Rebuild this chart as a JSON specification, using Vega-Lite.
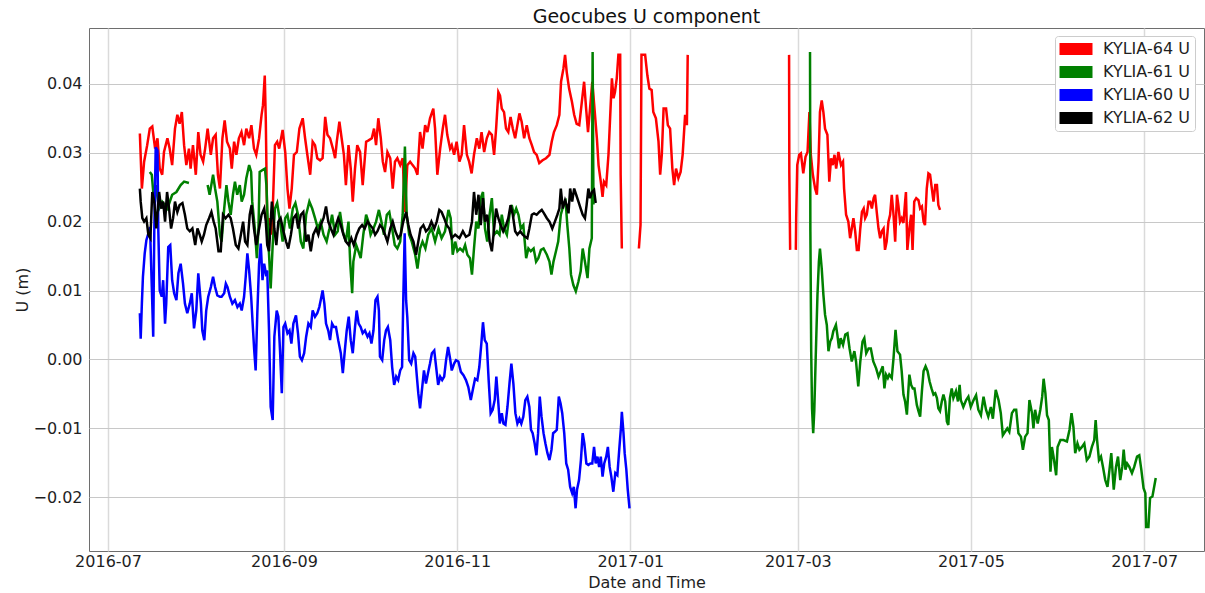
{
"$schema": "https://vega.github.io/schema/vega-lite/v6.json",
"autosize": {"type": "none"},
"padding": {"left": 89, "top": 28, "right": 1, "bottom": 42},
"width": 1115,
"height": 523,
"title": {"text": "Geocubes U component", "fontSize": 19, "fontWeight": "normal", "font": "DejaVu Sans", "color": "#111111", "offset": 1, "anchor": "middle"},
"config": {
  "font": "DejaVu Sans",
  "view": {"stroke": "#6e6e6e", "strokeWidth": 1},
  "axis": {"labelFont": "DejaVu Sans", "titleFont": "DejaVu Sans", "labelFontSize": 16, "titleFontSize": 16, "titleFontWeight": "normal", "labelColor": "#1f1f1f", "titleColor": "#1f1f1f", "domain": false, "ticks": false, "grid": true}
},
"datasets": {
"red": [
{"s":"KYLIA-64 U","g":1,"t":"2016-07-12T05:00","u":0.0328},
{"s":"KYLIA-64 U","g":1,"t":"2016-07-12T22:00","u":0.0248},
{"s":"KYLIA-64 U","g":1,"t":"2016-07-13T17:00","u":0.0287},
{"s":"KYLIA-64 U","g":1,"t":"2016-07-14T19:00","u":0.0311},
{"s":"KYLIA-64 U","g":1,"t":"2016-07-15T17:00","u":0.0335},
{"s":"KYLIA-64 U","g":1,"t":"2016-07-16T14:00","u":0.0338},
{"s":"KYLIA-64 U","g":1,"t":"2016-07-17T14:00","u":0.0306},
{"s":"KYLIA-64 U","g":1,"t":"2016-07-18T10:00","u":0.0321},
{"s":"KYLIA-64 U","g":1,"t":"2016-07-19T05:00","u":0.0277},
{"s":"KYLIA-64 U","g":1,"t":"2016-07-20T02:00","u":0.0268},
{"s":"KYLIA-64 U","g":1,"t":"2016-07-20T17:00","u":0.0301},
{"s":"KYLIA-64 U","g":1,"t":"2016-07-21T22:00","u":0.0321},
{"s":"KYLIA-64 U","g":1,"t":"2016-07-22T17:00","u":0.0306},
{"s":"KYLIA-64 U","g":1,"t":"2016-07-23T14:00","u":0.0282},
{"s":"KYLIA-64 U","g":1,"t":"2016-07-24T14:00","u":0.0335},
{"s":"KYLIA-64 U","g":1,"t":"2016-07-25T10:00","u":0.0355},
{"s":"KYLIA-64 U","g":1,"t":"2016-07-26T05:00","u":0.0342},
{"s":"KYLIA-64 U","g":1,"t":"2016-07-27T00:00","u":0.0359},
{"s":"KYLIA-64 U","g":1,"t":"2016-07-27T19:00","u":0.0311},
{"s":"KYLIA-64 U","g":1,"t":"2016-07-28T14:00","u":0.0282},
{"s":"KYLIA-64 U","g":1,"t":"2016-07-29T12:00","u":0.0306},
{"s":"KYLIA-64 U","g":1,"t":"2016-07-30T02:00","u":0.0277},
{"s":"KYLIA-64 U","g":1,"t":"2016-07-30T22:00","u":0.0311},
{"s":"KYLIA-64 U","g":1,"t":"2016-07-31T22:00","u":0.0268},
{"s":"KYLIA-64 U","g":1,"t":"2016-08-01T19:00","u":0.0330},
{"s":"KYLIA-64 U","g":1,"t":"2016-08-02T14:00","u":0.0297},
{"s":"KYLIA-64 U","g":1,"t":"2016-08-03T12:00","u":0.0287},
{"s":"KYLIA-64 U","g":1,"t":"2016-08-04T05:00","u":0.0306},
{"s":"KYLIA-64 U","g":1,"t":"2016-08-05T02:00","u":0.0335},
{"s":"KYLIA-64 U","g":1,"t":"2016-08-06T05:00","u":0.0297},
{"s":"KYLIA-64 U","g":1,"t":"2016-08-07T00:00","u":0.0321},
{"s":"KYLIA-64 U","g":1,"t":"2016-08-07T22:00","u":0.0326},
{"s":"KYLIA-64 U","g":1,"t":"2016-08-08T17:00","u":0.0268},
{"s":"KYLIA-64 U","g":1,"t":"2016-08-09T10:00","u":0.0248},
{"s":"KYLIA-64 U","g":1,"t":"2016-08-10T07:00","u":0.0321},
{"s":"KYLIA-64 U","g":1,"t":"2016-08-11T02:00","u":0.0347},
{"s":"KYLIA-64 U","g":1,"t":"2016-08-11T22:00","u":0.0316},
{"s":"KYLIA-64 U","g":1,"t":"2016-08-12T22:00","u":0.0306},
{"s":"KYLIA-64 U","g":1,"t":"2016-08-13T14:00","u":0.0277},
{"s":"KYLIA-64 U","g":1,"t":"2016-08-14T10:00","u":0.0316},
{"s":"KYLIA-64 U","g":1,"t":"2016-08-15T05:00","u":0.0297},
{"s":"KYLIA-64 U","g":1,"t":"2016-08-16T02:00","u":0.0321},
{"s":"KYLIA-64 U","g":1,"t":"2016-08-17T00:00","u":0.0330},
{"s":"KYLIA-64 U","g":1,"t":"2016-08-17T22:00","u":0.0311},
{"s":"KYLIA-64 U","g":1,"t":"2016-08-18T17:00","u":0.0335},
{"s":"KYLIA-64 U","g":1,"t":"2016-08-19T17:00","u":0.0321},
{"s":"KYLIA-64 U","g":1,"t":"2016-08-20T12:00","u":0.0340},
{"s":"KYLIA-64 U","g":1,"t":"2016-08-21T10:00","u":0.0306},
{"s":"KYLIA-64 U","g":1,"t":"2016-08-22T05:00","u":0.0297},
{"s":"KYLIA-64 U","g":1,"t":"2016-08-23T05:00","u":0.0321},
{"s":"KYLIA-64 U","g":1,"t":"2016-08-24T02:00","u":0.0355},
{"s":"KYLIA-64 U","g":1,"t":"2016-08-24T14:00","u":0.0369},
{"s":"KYLIA-64 U","g":1,"t":"2016-08-25T05:00","u":0.0412},
{"s":"KYLIA-64 U","g":1,"t":"2016-08-25T14:00","u":0.0345},
{"s":"KYLIA-64 U","g":1,"t":"2016-08-26T02:00","u":0.0190},
{"s":"KYLIA-64 U","g":1,"t":"2016-08-27T00:00","u":0.0205},
{"s":"KYLIA-64 U","g":1,"t":"2016-08-27T17:00","u":0.0181},
{"s":"KYLIA-64 U","g":1,"t":"2016-08-28T19:00","u":0.0311},
{"s":"KYLIA-64 U","g":1,"t":"2016-08-29T14:00","u":0.0316},
{"s":"KYLIA-64 U","g":1,"t":"2016-08-30T07:00","u":0.0306},
{"s":"KYLIA-64 U","g":1,"t":"2016-08-31T12:00","u":0.0333},
{"s":"KYLIA-64 U","g":1,"t":"2016-09-01T10:00","u":0.0301},
{"s":"KYLIA-64 U","g":1,"t":"2016-09-02T05:00","u":0.0248},
{"s":"KYLIA-64 U","g":1,"t":"2016-09-02T22:00","u":0.0219},
{"s":"KYLIA-64 U","g":1,"t":"2016-09-03T17:00","u":0.0248},
{"s":"KYLIA-64 U","g":1,"t":"2016-09-04T12:00","u":0.0297},
{"s":"KYLIA-64 U","g":1,"t":"2016-09-05T12:00","u":0.0301},
{"s":"KYLIA-64 U","g":1,"t":"2016-09-06T10:00","u":0.0335},
{"s":"KYLIA-64 U","g":1,"t":"2016-09-07T14:00","u":0.0350},
{"s":"KYLIA-64 U","g":1,"t":"2016-09-08T10:00","u":0.0321},
{"s":"KYLIA-64 U","g":1,"t":"2016-09-09T05:00","u":0.0297},
{"s":"KYLIA-64 U","g":1,"t":"2016-09-10T05:00","u":0.0268},
{"s":"KYLIA-64 U","g":1,"t":"2016-09-11T02:00","u":0.0316},
{"s":"KYLIA-64 U","g":1,"t":"2016-09-11T22:00","u":0.0311},
{"s":"KYLIA-64 U","g":1,"t":"2016-09-12T17:00","u":0.0292},
{"s":"KYLIA-64 U","g":1,"t":"2016-09-13T17:00","u":0.0289},
{"s":"KYLIA-64 U","g":1,"t":"2016-09-14T14:00","u":0.0292},
{"s":"KYLIA-64 U","g":1,"t":"2016-09-15T12:00","u":0.0352},
{"s":"KYLIA-64 U","g":1,"t":"2016-09-16T07:00","u":0.0326},
{"s":"KYLIA-64 U","g":1,"t":"2016-09-17T05:00","u":0.0321},
{"s":"KYLIA-64 U","g":1,"t":"2016-09-18T05:00","u":0.0306},
{"s":"KYLIA-64 U","g":1,"t":"2016-09-19T00:00","u":0.0292},
{"s":"KYLIA-64 U","g":1,"t":"2016-09-19T14:00","u":0.0316},
{"s":"KYLIA-64 U","g":1,"t":"2016-09-20T12:00","u":0.0345},
{"s":"KYLIA-64 U","g":1,"t":"2016-09-21T07:00","u":0.0321},
{"s":"KYLIA-64 U","g":1,"t":"2016-09-22T02:00","u":0.0297},
{"s":"KYLIA-64 U","g":1,"t":"2016-09-22T19:00","u":0.0253},
{"s":"KYLIA-64 U","g":1,"t":"2016-09-23T17:00","u":0.0311},
{"s":"KYLIA-64 U","g":1,"t":"2016-09-24T12:00","u":0.0277},
{"s":"KYLIA-64 U","g":1,"t":"2016-09-25T05:00","u":0.0229},
{"s":"KYLIA-64 U","g":1,"t":"2016-09-26T00:00","u":0.0277},
{"s":"KYLIA-64 U","g":1,"t":"2016-09-26T19:00","u":0.0311},
{"s":"KYLIA-64 U","g":1,"t":"2016-09-27T19:00","u":0.0301},
{"s":"KYLIA-64 U","g":1,"t":"2016-09-28T17:00","u":0.0253},
{"s":"KYLIA-64 U","g":1,"t":"2016-09-29T22:00","u":0.0316},
{"s":"KYLIA-64 U","g":1,"t":"2016-09-30T19:00","u":0.0318},
{"s":"KYLIA-64 U","g":1,"t":"2016-10-01T22:00","u":0.0321},
{"s":"KYLIA-64 U","g":1,"t":"2016-10-02T17:00","u":0.0335},
{"s":"KYLIA-64 U","g":1,"t":"2016-10-03T10:00","u":0.0311},
{"s":"KYLIA-64 U","g":1,"t":"2016-10-04T05:00","u":0.0350},
{"s":"KYLIA-64 U","g":1,"t":"2016-10-05T02:00","u":0.0321},
{"s":"KYLIA-64 U","g":1,"t":"2016-10-05T19:00","u":0.0287},
{"s":"KYLIA-64 U","g":1,"t":"2016-10-06T14:00","u":0.0272},
{"s":"KYLIA-64 U","g":1,"t":"2016-10-07T10:00","u":0.0301},
{"s":"KYLIA-64 U","g":1,"t":"2016-10-08T10:00","u":0.0292},
{"s":"KYLIA-64 U","g":1,"t":"2016-10-09T07:00","u":0.0248},
{"s":"KYLIA-64 U","g":1,"t":"2016-10-10T02:00","u":0.0287},
{"s":"KYLIA-64 U","g":1,"t":"2016-10-10T22:00","u":0.0292},
{"s":"KYLIA-64 U","g":1,"t":"2016-10-11T22:00","u":0.0282},
{"s":"KYLIA-64 U","g":1,"t":"2016-10-12T19:00","u":0.0292},
{"s":"KYLIA-64 U","g":1,"t":"2016-10-13T14:00","u":0.0214},
{"s":"KYLIA-64 U","g":1,"t":"2016-10-14T10:00","u":0.0282},
{"s":"KYLIA-64 U","g":1,"t":"2016-10-15T10:00","u":0.0287},
{"s":"KYLIA-64 U","g":1,"t":"2016-10-16T07:00","u":0.0282},
{"s":"KYLIA-64 U","g":1,"t":"2016-10-17T05:00","u":0.0277},
{"s":"KYLIA-64 U","g":1,"t":"2016-10-18T00:00","u":0.0268},
{"s":"KYLIA-64 U","g":1,"t":"2016-10-18T22:00","u":0.0330},
{"s":"KYLIA-64 U","g":1,"t":"2016-10-19T19:00","u":0.0306},
{"s":"KYLIA-64 U","g":1,"t":"2016-10-20T17:00","u":0.0340},
{"s":"KYLIA-64 U","g":1,"t":"2016-10-21T12:00","u":0.0330},
{"s":"KYLIA-64 U","g":1,"t":"2016-10-22T10:00","u":0.0350},
{"s":"KYLIA-64 U","g":1,"t":"2016-10-23T14:00","u":0.0364},
{"s":"KYLIA-64 U","g":1,"t":"2016-10-24T05:00","u":0.0335},
{"s":"KYLIA-64 U","g":1,"t":"2016-10-25T00:00","u":0.0268},
{"s":"KYLIA-64 U","g":1,"t":"2016-10-26T00:00","u":0.0306},
{"s":"KYLIA-64 U","g":1,"t":"2016-10-26T22:00","u":0.0335},
{"s":"KYLIA-64 U","g":1,"t":"2016-10-27T17:00","u":0.0355},
{"s":"KYLIA-64 U","g":1,"t":"2016-10-28T12:00","u":0.0326},
{"s":"KYLIA-64 U","g":1,"t":"2016-10-29T12:00","u":0.0306},
{"s":"KYLIA-64 U","g":1,"t":"2016-10-30T02:00","u":0.0311},
{"s":"KYLIA-64 U","g":1,"t":"2016-10-30T22:00","u":0.0297},
{"s":"KYLIA-64 U","g":1,"t":"2016-10-31T19:00","u":0.0316},
{"s":"KYLIA-64 U","g":1,"t":"2016-11-01T19:00","u":0.0287},
{"s":"KYLIA-64 U","g":1,"t":"2016-11-02T14:00","u":0.0297},
{"s":"KYLIA-64 U","g":1,"t":"2016-11-03T10:00","u":0.0340},
{"s":"KYLIA-64 U","g":1,"t":"2016-11-04T10:00","u":0.0297},
{"s":"KYLIA-64 U","g":1,"t":"2016-11-05T05:00","u":0.0287},
{"s":"KYLIA-64 U","g":1,"t":"2016-11-06T02:00","u":0.0270},
{"s":"KYLIA-64 U","g":1,"t":"2016-11-06T22:00","u":0.0297},
{"s":"KYLIA-64 U","g":1,"t":"2016-11-07T22:00","u":0.0321},
{"s":"KYLIA-64 U","g":1,"t":"2016-11-08T19:00","u":0.0306},
{"s":"KYLIA-64 U","g":1,"t":"2016-11-09T14:00","u":0.0330},
{"s":"KYLIA-64 U","g":1,"t":"2016-11-10T12:00","u":0.0301},
{"s":"KYLIA-64 U","g":1,"t":"2016-11-11T10:00","u":0.0321},
{"s":"KYLIA-64 U","g":1,"t":"2016-11-12T07:00","u":0.0330},
{"s":"KYLIA-64 U","g":1,"t":"2016-11-13T05:00","u":0.0326},
{"s":"KYLIA-64 U","g":1,"t":"2016-11-14T00:00","u":0.0297},
{"s":"KYLIA-64 U","g":1,"t":"2016-11-14T17:00","u":0.0335},
{"s":"KYLIA-64 U","g":1,"t":"2016-11-15T12:00","u":0.0388},
{"s":"KYLIA-64 U","g":1,"t":"2016-11-16T02:00","u":0.0383},
{"s":"KYLIA-64 U","g":1,"t":"2016-11-16T17:00","u":0.0364},
{"s":"KYLIA-64 U","g":1,"t":"2016-11-17T12:00","u":0.0359},
{"s":"KYLIA-64 U","g":1,"t":"2016-11-18T05:00","u":0.0335},
{"s":"KYLIA-64 U","g":1,"t":"2016-11-19T00:00","u":0.0330},
{"s":"KYLIA-64 U","g":1,"t":"2016-11-19T19:00","u":0.0352},
{"s":"KYLIA-64 U","g":1,"t":"2016-11-20T14:00","u":0.0335},
{"s":"KYLIA-64 U","g":1,"t":"2016-11-21T10:00","u":0.0321},
{"s":"KYLIA-64 U","g":1,"t":"2016-11-22T05:00","u":0.0340},
{"s":"KYLIA-64 U","g":1,"t":"2016-11-22T22:00","u":0.0357},
{"s":"KYLIA-64 U","g":1,"t":"2016-11-23T17:00","u":0.0345},
{"s":"KYLIA-64 U","g":1,"t":"2016-11-24T14:00","u":0.0321},
{"s":"KYLIA-64 U","g":1,"t":"2016-11-25T12:00","u":0.0340},
{"s":"KYLIA-64 U","g":1,"t":"2016-11-26T10:00","u":0.0321},
{"s":"KYLIA-64 U","g":1,"t":"2016-11-27T07:00","u":0.0311},
{"s":"KYLIA-64 U","g":1,"t":"2016-11-28T02:00","u":0.0301},
{"s":"KYLIA-64 U","g":1,"t":"2016-11-29T00:00","u":0.0297},
{"s":"KYLIA-64 U","g":1,"t":"2016-11-29T22:00","u":0.0285},
{"s":"KYLIA-64 U","g":1,"t":"2016-12-01T02:00","u":0.0289},
{"s":"KYLIA-64 U","g":1,"t":"2016-12-02T07:00","u":0.0292},
{"s":"KYLIA-64 U","g":1,"t":"2016-12-03T12:00","u":0.0297},
{"s":"KYLIA-64 U","g":1,"t":"2016-12-04T07:00","u":0.0316},
{"s":"KYLIA-64 U","g":1,"t":"2016-12-05T02:00","u":0.0330},
{"s":"KYLIA-64 U","g":1,"t":"2016-12-06T02:00","u":0.0340},
{"s":"KYLIA-64 U","g":1,"t":"2016-12-07T00:00","u":0.0355},
{"s":"KYLIA-64 U","g":1,"t":"2016-12-07T14:00","u":0.0403},
{"s":"KYLIA-64 U","g":1,"t":"2016-12-08T10:00","u":0.0422},
{"s":"KYLIA-64 U","g":1,"t":"2016-12-09T00:00","u":0.0442},
{"s":"KYLIA-64 U","g":1,"t":"2016-12-09T14:00","u":0.0417},
{"s":"KYLIA-64 U","g":1,"t":"2016-12-10T10:00","u":0.0393},
{"s":"KYLIA-64 U","g":1,"t":"2016-12-11T10:00","u":0.0374},
{"s":"KYLIA-64 U","g":1,"t":"2016-12-12T05:00","u":0.0355},
{"s":"KYLIA-64 U","g":1,"t":"2016-12-13T02:00","u":0.0342},
{"s":"KYLIA-64 U","g":1,"t":"2016-12-14T00:00","u":0.0340},
{"s":"KYLIA-64 U","g":1,"t":"2016-12-14T22:00","u":0.0374},
{"s":"KYLIA-64 U","g":1,"t":"2016-12-15T17:00","u":0.0403},
{"s":"KYLIA-64 U","g":1,"t":"2016-12-16T10:00","u":0.0364},
{"s":"KYLIA-64 U","g":1,"t":"2016-12-17T02:00","u":0.0330},
{"s":"KYLIA-64 U","g":1,"t":"2016-12-17T19:00","u":0.0364},
{"s":"KYLIA-64 U","g":1,"t":"2016-12-18T14:00","u":0.0403},
{"s":"KYLIA-64 U","g":1,"t":"2016-12-19T00:00","u":0.0383},
{"s":"KYLIA-64 U","g":1,"t":"2016-12-20T05:00","u":0.0321},
{"s":"KYLIA-64 U","g":1,"t":"2016-12-20T19:00","u":0.0282},
{"s":"KYLIA-64 U","g":1,"t":"2016-12-21T14:00","u":0.0258},
{"s":"KYLIA-64 U","g":1,"t":"2016-12-22T05:00","u":0.0236},
{"s":"KYLIA-64 U","g":1,"t":"2016-12-22T17:00","u":0.0258},
{"s":"KYLIA-64 U","g":1,"t":"2016-12-23T12:00","u":0.0253},
{"s":"KYLIA-64 U","g":1,"t":"2016-12-24T07:00","u":0.0297},
{"s":"KYLIA-64 U","g":1,"t":"2016-12-24T22:00","u":0.0355},
{"s":"KYLIA-64 U","g":1,"t":"2016-12-25T12:00","u":0.0408},
{"s":"KYLIA-64 U","g":1,"t":"2016-12-26T02:00","u":0.0379},
{"s":"KYLIA-64 U","g":1,"t":"2016-12-26T14:00","u":0.0388},
{"s":"KYLIA-64 U","g":1,"t":"2016-12-27T05:00","u":0.0408},
{"s":"KYLIA-64 U","g":1,"t":"2016-12-27T19:00","u":0.0442},
{"s":"KYLIA-64 U","g":1,"t":"2016-12-28T10:00","u":0.0442},
{"s":"KYLIA-64 U","g":1,"t":"2016-12-28T14:00","u":0.0268},
{"s":"KYLIA-64 U","g":1,"t":"2016-12-29T00:00","u":0.0161},
{"s":"KYLIA-64 U","g":2,"t":"2017-01-04T00:00","u":0.0161},
{"s":"KYLIA-64 U","g":2,"t":"2017-01-04T14:00","u":0.0195},
{"s":"KYLIA-64 U","g":2,"t":"2017-01-04T22:00","u":0.0442},
{"s":"KYLIA-64 U","g":2,"t":"2017-01-06T05:00","u":0.0442},
{"s":"KYLIA-64 U","g":2,"t":"2017-01-07T00:00","u":0.0412},
{"s":"KYLIA-64 U","g":2,"t":"2017-01-07T17:00","u":0.0393},
{"s":"KYLIA-64 U","g":2,"t":"2017-01-08T12:00","u":0.0391},
{"s":"KYLIA-64 U","g":2,"t":"2017-01-09T02:00","u":0.0359},
{"s":"KYLIA-64 U","g":2,"t":"2017-01-10T00:00","u":0.0350},
{"s":"KYLIA-64 U","g":2,"t":"2017-01-10T22:00","u":0.0316},
{"s":"KYLIA-64 U","g":2,"t":"2017-01-11T12:00","u":0.0268},
{"s":"KYLIA-64 U","g":2,"t":"2017-01-12T02:00","u":0.0297},
{"s":"KYLIA-64 U","g":2,"t":"2017-01-12T17:00","u":0.0364},
{"s":"KYLIA-64 U","g":2,"t":"2017-01-13T14:00","u":0.0364},
{"s":"KYLIA-64 U","g":2,"t":"2017-01-14T05:00","u":0.0340},
{"s":"KYLIA-64 U","g":2,"t":"2017-01-15T00:00","u":0.0335},
{"s":"KYLIA-64 U","g":2,"t":"2017-01-15T19:00","u":0.0277},
{"s":"KYLIA-64 U","g":2,"t":"2017-01-16T10:00","u":0.0253},
{"s":"KYLIA-64 U","g":2,"t":"2017-01-17T02:00","u":0.0277},
{"s":"KYLIA-64 U","g":2,"t":"2017-01-17T22:00","u":0.0263},
{"s":"KYLIA-64 U","g":2,"t":"2017-01-18T17:00","u":0.0272},
{"s":"KYLIA-64 U","g":2,"t":"2017-01-19T10:00","u":0.0297},
{"s":"KYLIA-64 U","g":2,"t":"2017-01-20T07:00","u":0.0355},
{"s":"KYLIA-64 U","g":2,"t":"2017-01-20T22:00","u":0.0340},
{"s":"KYLIA-64 U","g":2,"t":"2017-01-21T05:00","u":0.0442},
{"s":"KYLIA-64 U","g":3,"t":"2017-02-25T22:00","u":0.0442},
{"s":"KYLIA-64 U","g":3,"t":"2017-02-26T00:00","u":0.0272},
{"s":"KYLIA-64 U","g":3,"t":"2017-02-26T07:00","u":0.0159},
{"s":"KYLIA-64 U","g":4,"t":"2017-02-28T07:00","u":0.0159},
{"s":"KYLIA-64 U","g":4,"t":"2017-02-28T10:00","u":0.0205},
{"s":"KYLIA-64 U","g":4,"t":"2017-02-28T19:00","u":0.0282},
{"s":"KYLIA-64 U","g":4,"t":"2017-03-01T12:00","u":0.0297},
{"s":"KYLIA-64 U","g":4,"t":"2017-03-02T02:00","u":0.0299},
{"s":"KYLIA-64 U","g":4,"t":"2017-03-02T22:00","u":0.0270},
{"s":"KYLIA-64 U","g":4,"t":"2017-03-03T17:00","u":0.0294},
{"s":"KYLIA-64 U","g":4,"t":"2017-03-04T10:00","u":0.0301},
{"s":"KYLIA-64 U","g":4,"t":"2017-03-05T02:00","u":0.0359},
{"s":"KYLIA-64 U","g":4,"t":"2017-03-05T14:00","u":0.0297},
{"s":"KYLIA-64 U","g":4,"t":"2017-03-06T07:00","u":0.0268},
{"s":"KYLIA-64 U","g":4,"t":"2017-03-07T02:00","u":0.0248},
{"s":"KYLIA-64 U","g":4,"t":"2017-03-07T17:00","u":0.0239},
{"s":"KYLIA-64 U","g":4,"t":"2017-03-08T07:00","u":0.0287},
{"s":"KYLIA-64 U","g":4,"t":"2017-03-08T19:00","u":0.0359},
{"s":"KYLIA-64 U","g":4,"t":"2017-03-09T10:00","u":0.0376},
{"s":"KYLIA-64 U","g":4,"t":"2017-03-10T00:00","u":0.0359},
{"s":"KYLIA-64 U","g":4,"t":"2017-03-10T14:00","u":0.0335},
{"s":"KYLIA-64 U","g":4,"t":"2017-03-11T10:00","u":0.0326},
{"s":"KYLIA-64 U","g":4,"t":"2017-03-12T02:00","u":0.0258},
{"s":"KYLIA-64 U","g":4,"t":"2017-03-12T17:00","u":0.0292},
{"s":"KYLIA-64 U","g":4,"t":"2017-03-13T07:00","u":0.0282},
{"s":"KYLIA-64 U","g":4,"t":"2017-03-13T22:00","u":0.0297},
{"s":"KYLIA-64 U","g":4,"t":"2017-03-14T12:00","u":0.0277},
{"s":"KYLIA-64 U","g":4,"t":"2017-03-15T07:00","u":0.0301},
{"s":"KYLIA-64 U","g":4,"t":"2017-03-16T05:00","u":0.0282},
{"s":"KYLIA-64 U","g":4,"t":"2017-03-16T22:00","u":0.0287},
{"s":"KYLIA-64 U","g":4,"t":"2017-03-17T07:00","u":0.0248},
{"s":"KYLIA-64 U","g":4,"t":"2017-03-18T00:00","u":0.0210},
{"s":"KYLIA-64 U","g":4,"t":"2017-03-18T19:00","u":0.0200},
{"s":"KYLIA-64 U","g":4,"t":"2017-03-19T10:00","u":0.0176},
{"s":"KYLIA-64 U","g":4,"t":"2017-03-20T00:00","u":0.0190},
{"s":"KYLIA-64 U","g":4,"t":"2017-03-20T14:00","u":0.0205},
{"s":"KYLIA-64 U","g":4,"t":"2017-03-21T05:00","u":0.0186},
{"s":"KYLIA-64 U","g":4,"t":"2017-03-21T19:00","u":0.0159},
{"s":"KYLIA-64 U","g":4,"t":"2017-03-22T10:00","u":0.0159},
{"s":"KYLIA-64 U","g":4,"t":"2017-03-23T00:00","u":0.0190},
{"s":"KYLIA-64 U","g":4,"t":"2017-03-23T14:00","u":0.0214},
{"s":"KYLIA-64 U","g":4,"t":"2017-03-24T05:00","u":0.0219},
{"s":"KYLIA-64 U","g":4,"t":"2017-03-24T17:00","u":0.0205},
{"s":"KYLIA-64 U","g":4,"t":"2017-03-25T07:00","u":0.0210},
{"s":"KYLIA-64 U","g":4,"t":"2017-03-25T22:00","u":0.0229},
{"s":"KYLIA-64 U","g":4,"t":"2017-03-26T12:00","u":0.0229},
{"s":"KYLIA-64 U","g":4,"t":"2017-03-27T02:00","u":0.0219},
{"s":"KYLIA-64 U","g":4,"t":"2017-03-27T17:00","u":0.0234},
{"s":"KYLIA-64 U","g":4,"t":"2017-03-28T05:00","u":0.0239},
{"s":"KYLIA-64 U","g":4,"t":"2017-03-28T19:00","u":0.0214},
{"s":"KYLIA-64 U","g":4,"t":"2017-03-29T10:00","u":0.0190},
{"s":"KYLIA-64 U","g":4,"t":"2017-03-30T00:00","u":0.0176},
{"s":"KYLIA-64 U","g":4,"t":"2017-03-30T14:00","u":0.0186},
{"s":"KYLIA-64 U","g":4,"t":"2017-03-31T05:00","u":0.0190},
{"s":"KYLIA-64 U","g":4,"t":"2017-03-31T17:00","u":0.0159},
{"s":"KYLIA-64 U","g":4,"t":"2017-04-01T07:00","u":0.0171},
{"s":"KYLIA-64 U","g":4,"t":"2017-04-01T22:00","u":0.0200},
{"s":"KYLIA-64 U","g":4,"t":"2017-04-02T12:00","u":0.0210},
{"s":"KYLIA-64 U","g":4,"t":"2017-04-03T02:00","u":0.0239},
{"s":"KYLIA-64 U","g":4,"t":"2017-04-03T17:00","u":0.0210},
{"s":"KYLIA-64 U","g":4,"t":"2017-04-04T07:00","u":0.0171},
{"s":"KYLIA-64 U","g":4,"t":"2017-04-04T22:00","u":0.0239},
{"s":"KYLIA-64 U","g":4,"t":"2017-04-05T10:00","u":0.0224},
{"s":"KYLIA-64 U","g":4,"t":"2017-04-06T00:00","u":0.0200},
{"s":"KYLIA-64 U","g":4,"t":"2017-04-06T14:00","u":0.0205},
{"s":"KYLIA-64 U","g":4,"t":"2017-04-07T05:00","u":0.0198},
{"s":"KYLIA-64 U","g":4,"t":"2017-04-07T19:00","u":0.0229},
{"s":"KYLIA-64 U","g":4,"t":"2017-04-08T02:00","u":0.0243},
{"s":"KYLIA-64 U","g":4,"t":"2017-04-08T14:00","u":0.0159},
{"s":"KYLIA-64 U","g":4,"t":"2017-04-09T07:00","u":0.0190},
{"s":"KYLIA-64 U","g":4,"t":"2017-04-09T22:00","u":0.0210},
{"s":"KYLIA-64 U","g":4,"t":"2017-04-10T10:00","u":0.0159},
{"s":"KYLIA-64 U","g":4,"t":"2017-04-11T00:00","u":0.0229},
{"s":"KYLIA-64 U","g":4,"t":"2017-04-11T17:00","u":0.0234},
{"s":"KYLIA-64 U","g":4,"t":"2017-04-12T12:00","u":0.0231},
{"s":"KYLIA-64 U","g":4,"t":"2017-04-13T02:00","u":0.0219},
{"s":"KYLIA-64 U","g":4,"t":"2017-04-13T17:00","u":0.0222},
{"s":"KYLIA-64 U","g":4,"t":"2017-04-14T07:00","u":0.0200},
{"s":"KYLIA-64 U","g":4,"t":"2017-04-14T19:00","u":0.0195},
{"s":"KYLIA-64 U","g":4,"t":"2017-04-15T10:00","u":0.0248},
{"s":"KYLIA-64 U","g":4,"t":"2017-04-16T00:00","u":0.0270},
{"s":"KYLIA-64 U","g":4,"t":"2017-04-16T14:00","u":0.0268},
{"s":"KYLIA-64 U","g":4,"t":"2017-04-17T05:00","u":0.0248},
{"s":"KYLIA-64 U","g":4,"t":"2017-04-17T19:00","u":0.0229},
{"s":"KYLIA-64 U","g":4,"t":"2017-04-18T10:00","u":0.0253},
{"s":"KYLIA-64 U","g":4,"t":"2017-04-19T00:00","u":0.0253},
{"s":"KYLIA-64 U","g":4,"t":"2017-04-19T12:00","u":0.0224},
{"s":"KYLIA-64 U","g":4,"t":"2017-04-20T02:00","u":0.0217}
],
"green": [
{"s":"KYLIA-61 U","g":1,"t":"2016-07-15T17:00","u":0.0272},
{"s":"KYLIA-61 U","g":1,"t":"2016-07-16T10:00","u":0.0268},
{"s":"KYLIA-61 U","g":1,"t":"2016-07-17T05:00","u":0.0229},
{"s":"KYLIA-61 U","g":1,"t":"2016-07-17T19:00","u":0.0253},
{"s":"KYLIA-61 U","g":1,"t":"2016-07-19T00:00","u":0.0219},
{"s":"KYLIA-61 U","g":1,"t":"2016-07-20T02:00","u":0.0229},
{"s":"KYLIA-61 U","g":1,"t":"2016-07-21T22:00","u":0.0219},
{"s":"KYLIA-61 U","g":1,"t":"2016-07-23T14:00","u":0.0239},
{"s":"KYLIA-61 U","g":1,"t":"2016-07-25T02:00","u":0.0243},
{"s":"KYLIA-61 U","g":1,"t":"2016-07-26T14:00","u":0.0253},
{"s":"KYLIA-61 U","g":1,"t":"2016-07-27T19:00","u":0.0258},
{"s":"KYLIA-61 U","g":1,"t":"2016-07-29T12:00","u":0.0256},
{"s":"KYLIA-61 U","g":2,"t":"2016-08-05T02:00","u":0.0253},
{"s":"KYLIA-61 U","g":2,"t":"2016-08-05T19:00","u":0.0239},
{"s":"KYLIA-61 U","g":2,"t":"2016-08-07T00:00","u":0.0268},
{"s":"KYLIA-61 U","g":2,"t":"2016-08-07T17:00","u":0.0248},
{"s":"KYLIA-61 U","g":2,"t":"2016-08-08T12:00","u":0.0229},
{"s":"KYLIA-61 U","g":2,"t":"2016-08-09T10:00","u":0.0181},
{"s":"KYLIA-61 U","g":2,"t":"2016-08-10T00:00","u":0.0171},
{"s":"KYLIA-61 U","g":2,"t":"2016-08-10T22:00","u":0.0219},
{"s":"KYLIA-61 U","g":2,"t":"2016-08-11T17:00","u":0.0253},
{"s":"KYLIA-61 U","g":2,"t":"2016-08-12T10:00","u":0.0229},
{"s":"KYLIA-61 U","g":2,"t":"2016-08-13T05:00","u":0.0210},
{"s":"KYLIA-61 U","g":2,"t":"2016-08-14T00:00","u":0.0239},
{"s":"KYLIA-61 U","g":2,"t":"2016-08-14T17:00","u":0.0258},
{"s":"KYLIA-61 U","g":2,"t":"2016-08-15T12:00","u":0.0239},
{"s":"KYLIA-61 U","g":2,"t":"2016-08-16T10:00","u":0.0253},
{"s":"KYLIA-61 U","g":2,"t":"2016-08-17T02:00","u":0.0229},
{"s":"KYLIA-61 U","g":2,"t":"2016-08-17T22:00","u":0.0239},
{"s":"KYLIA-61 U","g":2,"t":"2016-08-18T17:00","u":0.0263},
{"s":"KYLIA-61 U","g":2,"t":"2016-08-19T17:00","u":0.0282},
{"s":"KYLIA-61 U","g":2,"t":"2016-08-20T10:00","u":0.0272},
{"s":"KYLIA-61 U","g":2,"t":"2016-08-20T19:00","u":0.0229},
{"s":"KYLIA-61 U","g":2,"t":"2016-08-21T17:00","u":0.0190},
{"s":"KYLIA-61 U","g":2,"t":"2016-08-22T10:00","u":0.0147},
{"s":"KYLIA-61 U","g":2,"t":"2016-08-23T00:00","u":0.0190},
{"s":"KYLIA-61 U","g":2,"t":"2016-08-23T10:00","u":0.0272},
{"s":"KYLIA-61 U","g":2,"t":"2016-08-24T10:00","u":0.0275},
{"s":"KYLIA-61 U","g":2,"t":"2016-08-25T07:00","u":0.0277},
{"s":"KYLIA-61 U","g":2,"t":"2016-08-25T19:00","u":0.0253},
{"s":"KYLIA-61 U","g":2,"t":"2016-08-26T12:00","u":0.0171},
{"s":"KYLIA-61 U","g":2,"t":"2016-08-27T07:00","u":0.0103},
{"s":"KYLIA-61 U","g":2,"t":"2016-08-28T00:00","u":0.0166},
{"s":"KYLIA-61 U","g":2,"t":"2016-08-28T19:00","u":0.0219},
{"s":"KYLIA-61 U","g":2,"t":"2016-08-29T14:00","u":0.0227},
{"s":"KYLIA-61 U","g":2,"t":"2016-08-30T14:00","u":0.0200},
{"s":"KYLIA-61 U","g":2,"t":"2016-08-31T12:00","u":0.0171},
{"s":"KYLIA-61 U","g":2,"t":"2016-09-01T10:00","u":0.0205},
{"s":"KYLIA-61 U","g":2,"t":"2016-09-02T05:00","u":0.0210},
{"s":"KYLIA-61 U","g":2,"t":"2016-09-03T02:00","u":0.0190},
{"s":"KYLIA-61 U","g":2,"t":"2016-09-04T02:00","u":0.0219},
{"s":"KYLIA-61 U","g":2,"t":"2016-09-05T00:00","u":0.0227},
{"s":"KYLIA-61 U","g":2,"t":"2016-09-05T22:00","u":0.0210},
{"s":"KYLIA-61 U","g":2,"t":"2016-09-06T22:00","u":0.0171},
{"s":"KYLIA-61 U","g":2,"t":"2016-09-07T19:00","u":0.0161},
{"s":"KYLIA-61 U","g":2,"t":"2016-09-08T19:00","u":0.0210},
{"s":"KYLIA-61 U","g":2,"t":"2016-09-09T22:00","u":0.0229},
{"s":"KYLIA-61 U","g":2,"t":"2016-09-10T22:00","u":0.0219},
{"s":"KYLIA-61 U","g":2,"t":"2016-09-11T22:00","u":0.0205},
{"s":"KYLIA-61 U","g":2,"t":"2016-09-12T22:00","u":0.0190},
{"s":"KYLIA-61 U","g":2,"t":"2016-09-13T22:00","u":0.0200},
{"s":"KYLIA-61 U","g":2,"t":"2016-09-14T22:00","u":0.0181},
{"s":"KYLIA-61 U","g":2,"t":"2016-09-16T00:00","u":0.0171},
{"s":"KYLIA-61 U","g":2,"t":"2016-09-17T00:00","u":0.0190},
{"s":"KYLIA-61 U","g":2,"t":"2016-09-17T22:00","u":0.0210},
{"s":"KYLIA-61 U","g":2,"t":"2016-09-19T00:00","u":0.0181},
{"s":"KYLIA-61 U","g":2,"t":"2016-09-19T22:00","u":0.0186},
{"s":"KYLIA-61 U","g":2,"t":"2016-09-20T17:00","u":0.0214},
{"s":"KYLIA-61 U","g":2,"t":"2016-09-21T17:00","u":0.0186},
{"s":"KYLIA-61 U","g":2,"t":"2016-09-22T19:00","u":0.0171},
{"s":"KYLIA-61 U","g":2,"t":"2016-09-23T17:00","u":0.0200},
{"s":"KYLIA-61 U","g":2,"t":"2016-09-24T07:00","u":0.0142},
{"s":"KYLIA-61 U","g":2,"t":"2016-09-25T00:00","u":0.0096},
{"s":"KYLIA-61 U","g":2,"t":"2016-09-25T10:00","u":0.0142},
{"s":"KYLIA-61 U","g":2,"t":"2016-09-26T10:00","u":0.0166},
{"s":"KYLIA-61 U","g":2,"t":"2016-09-27T05:00","u":0.0157},
{"s":"KYLIA-61 U","g":2,"t":"2016-09-28T00:00","u":0.0147},
{"s":"KYLIA-61 U","g":2,"t":"2016-09-28T22:00","u":0.0181},
{"s":"KYLIA-61 U","g":2,"t":"2016-09-29T22:00","u":0.0210},
{"s":"KYLIA-61 U","g":2,"t":"2016-09-30T17:00","u":0.0200},
{"s":"KYLIA-61 U","g":2,"t":"2016-10-01T12:00","u":0.0181},
{"s":"KYLIA-61 U","g":2,"t":"2016-10-02T12:00","u":0.0190},
{"s":"KYLIA-61 U","g":2,"t":"2016-10-03T10:00","u":0.0200},
{"s":"KYLIA-61 U","g":2,"t":"2016-10-04T10:00","u":0.0217},
{"s":"KYLIA-61 U","g":2,"t":"2016-10-05T07:00","u":0.0200},
{"s":"KYLIA-61 U","g":2,"t":"2016-10-06T05:00","u":0.0181},
{"s":"KYLIA-61 U","g":2,"t":"2016-10-07T05:00","u":0.0210},
{"s":"KYLIA-61 U","g":2,"t":"2016-10-08T02:00","u":0.0214},
{"s":"KYLIA-61 U","g":2,"t":"2016-10-09T02:00","u":0.0190},
{"s":"KYLIA-61 U","g":2,"t":"2016-10-10T00:00","u":0.0166},
{"s":"KYLIA-61 U","g":2,"t":"2016-10-10T22:00","u":0.0161},
{"s":"KYLIA-61 U","g":2,"t":"2016-10-11T22:00","u":0.0171},
{"s":"KYLIA-61 U","g":2,"t":"2016-10-12T19:00","u":0.0210},
{"s":"KYLIA-61 U","g":2,"t":"2016-10-13T14:00","u":0.0309},
{"s":"KYLIA-61 U","g":2,"t":"2016-10-14T05:00","u":0.0210},
{"s":"KYLIA-61 U","g":2,"t":"2016-10-15T02:00","u":0.0181},
{"s":"KYLIA-61 U","g":2,"t":"2016-10-16T00:00","u":0.0171},
{"s":"KYLIA-61 U","g":2,"t":"2016-10-17T05:00","u":0.0152},
{"s":"KYLIA-61 U","g":2,"t":"2016-10-18T00:00","u":0.0132},
{"s":"KYLIA-61 U","g":2,"t":"2016-10-18T22:00","u":0.0161},
{"s":"KYLIA-61 U","g":2,"t":"2016-10-19T19:00","u":0.0171},
{"s":"KYLIA-61 U","g":2,"t":"2016-10-20T19:00","u":0.0161},
{"s":"KYLIA-61 U","g":2,"t":"2016-10-21T19:00","u":0.0181},
{"s":"KYLIA-61 U","g":2,"t":"2016-10-23T00:00","u":0.0190},
{"s":"KYLIA-61 U","g":2,"t":"2016-10-24T05:00","u":0.0171},
{"s":"KYLIA-61 U","g":2,"t":"2016-10-25T10:00","u":0.0190},
{"s":"KYLIA-61 U","g":2,"t":"2016-10-26T12:00","u":0.0176},
{"s":"KYLIA-61 U","g":2,"t":"2016-10-27T17:00","u":0.0186},
{"s":"KYLIA-61 U","g":2,"t":"2016-10-28T22:00","u":0.0217},
{"s":"KYLIA-61 U","g":2,"t":"2016-10-29T17:00","u":0.0205},
{"s":"KYLIA-61 U","g":2,"t":"2016-10-30T10:00","u":0.0152},
{"s":"KYLIA-61 U","g":2,"t":"2016-10-31T07:00","u":0.0171},
{"s":"KYLIA-61 U","g":2,"t":"2016-11-01T02:00","u":0.0157},
{"s":"KYLIA-61 U","g":2,"t":"2016-11-02T00:00","u":0.0161},
{"s":"KYLIA-61 U","g":2,"t":"2016-11-03T00:00","u":0.0157},
{"s":"KYLIA-61 U","g":2,"t":"2016-11-03T19:00","u":0.0166},
{"s":"KYLIA-61 U","g":2,"t":"2016-11-04T14:00","u":0.0152},
{"s":"KYLIA-61 U","g":2,"t":"2016-11-05T12:00","u":0.0147},
{"s":"KYLIA-61 U","g":2,"t":"2016-11-06T05:00","u":0.0123},
{"s":"KYLIA-61 U","g":2,"t":"2016-11-06T22:00","u":0.0161},
{"s":"KYLIA-61 U","g":2,"t":"2016-11-07T17:00","u":0.0200},
{"s":"KYLIA-61 U","g":2,"t":"2016-11-08T12:00","u":0.0190},
{"s":"KYLIA-61 U","g":2,"t":"2016-11-09T07:00","u":0.0234},
{"s":"KYLIA-61 U","g":2,"t":"2016-11-10T02:00","u":0.0243},
{"s":"KYLIA-61 U","g":2,"t":"2016-11-10T19:00","u":0.0190},
{"s":"KYLIA-61 U","g":2,"t":"2016-11-11T14:00","u":0.0171},
{"s":"KYLIA-61 U","g":2,"t":"2016-11-12T10:00","u":0.0210},
{"s":"KYLIA-61 U","g":2,"t":"2016-11-13T05:00","u":0.0234},
{"s":"KYLIA-61 U","g":2,"t":"2016-11-14T00:00","u":0.0181},
{"s":"KYLIA-61 U","g":2,"t":"2016-11-15T00:00","u":0.0186},
{"s":"KYLIA-61 U","g":2,"t":"2016-11-15T22:00","u":0.0181},
{"s":"KYLIA-61 U","g":2,"t":"2016-11-16T17:00","u":0.0210},
{"s":"KYLIA-61 U","g":2,"t":"2016-11-17T12:00","u":0.0190},
{"s":"KYLIA-61 U","g":2,"t":"2016-11-18T12:00","u":0.0181},
{"s":"KYLIA-61 U","g":2,"t":"2016-11-19T10:00","u":0.0210},
{"s":"KYLIA-61 U","g":2,"t":"2016-11-20T05:00","u":0.0224},
{"s":"KYLIA-61 U","g":2,"t":"2016-11-21T00:00","u":0.0210},
{"s":"KYLIA-61 U","g":2,"t":"2016-11-21T19:00","u":0.0219},
{"s":"KYLIA-61 U","g":2,"t":"2016-11-22T14:00","u":0.0210},
{"s":"KYLIA-61 U","g":2,"t":"2016-11-23T10:00","u":0.0190},
{"s":"KYLIA-61 U","g":2,"t":"2016-11-24T07:00","u":0.0195},
{"s":"KYLIA-61 U","g":2,"t":"2016-11-25T07:00","u":0.0147},
{"s":"KYLIA-61 U","g":2,"t":"2016-11-26T02:00","u":0.0161},
{"s":"KYLIA-61 U","g":2,"t":"2016-11-26T22:00","u":0.0157},
{"s":"KYLIA-61 U","g":2,"t":"2016-11-27T22:00","u":0.0161},
{"s":"KYLIA-61 U","g":2,"t":"2016-11-28T19:00","u":0.0142},
{"s":"KYLIA-61 U","g":2,"t":"2016-11-29T14:00","u":0.0147},
{"s":"KYLIA-61 U","g":2,"t":"2016-11-30T12:00","u":0.0159},
{"s":"KYLIA-61 U","g":2,"t":"2016-12-01T10:00","u":0.0161},
{"s":"KYLIA-61 U","g":2,"t":"2016-12-02T14:00","u":0.0152},
{"s":"KYLIA-61 U","g":2,"t":"2016-12-03T12:00","u":0.0142},
{"s":"KYLIA-61 U","g":2,"t":"2016-12-04T05:00","u":0.0123},
{"s":"KYLIA-61 U","g":2,"t":"2016-12-04T22:00","u":0.0142},
{"s":"KYLIA-61 U","g":2,"t":"2016-12-05T19:00","u":0.0157},
{"s":"KYLIA-61 U","g":2,"t":"2016-12-06T14:00","u":0.0171},
{"s":"KYLIA-61 U","g":2,"t":"2016-12-07T12:00","u":0.0210},
{"s":"KYLIA-61 U","g":2,"t":"2016-12-08T10:00","u":0.0224},
{"s":"KYLIA-61 U","g":2,"t":"2016-12-09T05:00","u":0.0229},
{"s":"KYLIA-61 U","g":2,"t":"2016-12-09T19:00","u":0.0195},
{"s":"KYLIA-61 U","g":2,"t":"2016-12-10T12:00","u":0.0161},
{"s":"KYLIA-61 U","g":2,"t":"2016-12-11T02:00","u":0.0123},
{"s":"KYLIA-61 U","g":2,"t":"2016-12-11T22:00","u":0.0108},
{"s":"KYLIA-61 U","g":2,"t":"2016-12-12T19:00","u":0.0099},
{"s":"KYLIA-61 U","g":2,"t":"2016-12-13T17:00","u":0.0113},
{"s":"KYLIA-61 U","g":2,"t":"2016-12-14T12:00","u":0.0128},
{"s":"KYLIA-61 U","g":2,"t":"2016-12-15T05:00","u":0.0161},
{"s":"KYLIA-61 U","g":2,"t":"2016-12-16T00:00","u":0.0142},
{"s":"KYLIA-61 U","g":2,"t":"2016-12-16T22:00","u":0.0118},
{"s":"KYLIA-61 U","g":2,"t":"2016-12-17T14:00","u":0.0161},
{"s":"KYLIA-61 U","g":2,"t":"2016-12-18T10:00","u":0.0176},
{"s":"KYLIA-61 U","g":2,"t":"2016-12-18T17:00","u":0.0446},
{"s":"KYLIA-61 U","g":2,"t":"2016-12-19T00:00","u":0.0225},
{"s":"KYLIA-61 U","g":3,"t":"2017-03-05T07:00","u":0.0446},
{"s":"KYLIA-61 U","g":3,"t":"2017-03-05T10:00","u":0.0186},
{"s":"KYLIA-61 U","g":3,"t":"2017-03-05T17:00","u":0.0012},
{"s":"KYLIA-61 U","g":3,"t":"2017-03-06T00:00","u":-0.0071},
{"s":"KYLIA-61 U","g":3,"t":"2017-03-06T10:00","u":-0.0107},
{"s":"KYLIA-61 U","g":3,"t":"2017-03-06T19:00","u":-0.0075},
{"s":"KYLIA-61 U","g":3,"t":"2017-03-07T07:00","u":0.0002},
{"s":"KYLIA-61 U","g":3,"t":"2017-03-07T22:00","u":0.0094},
{"s":"KYLIA-61 U","g":3,"t":"2017-03-08T10:00","u":0.0142},
{"s":"KYLIA-61 U","g":3,"t":"2017-03-08T19:00","u":0.0161},
{"s":"KYLIA-61 U","g":3,"t":"2017-03-09T10:00","u":0.0132},
{"s":"KYLIA-61 U","g":3,"t":"2017-03-10T00:00","u":0.0094},
{"s":"KYLIA-61 U","g":3,"t":"2017-03-10T14:00","u":0.0065},
{"s":"KYLIA-61 U","g":3,"t":"2017-03-11T05:00","u":0.0050},
{"s":"KYLIA-61 U","g":3,"t":"2017-03-11T19:00","u":0.0012},
{"s":"KYLIA-61 U","g":3,"t":"2017-03-12T10:00","u":0.0026},
{"s":"KYLIA-61 U","g":3,"t":"2017-03-13T00:00","u":0.0031},
{"s":"KYLIA-61 U","g":3,"t":"2017-03-13T12:00","u":0.0041},
{"s":"KYLIA-61 U","g":3,"t":"2017-03-14T10:00","u":0.0050},
{"s":"KYLIA-61 U","g":3,"t":"2017-03-14T22:00","u":0.0036},
{"s":"KYLIA-61 U","g":3,"t":"2017-03-15T12:00","u":0.0016},
{"s":"KYLIA-61 U","g":3,"t":"2017-03-16T02:00","u":0.0031},
{"s":"KYLIA-61 U","g":3,"t":"2017-03-16T22:00","u":0.0021},
{"s":"KYLIA-61 U","g":3,"t":"2017-03-17T17:00","u":0.0036},
{"s":"KYLIA-61 U","g":3,"t":"2017-03-18T12:00","u":0.0038},
{"s":"KYLIA-61 U","g":3,"t":"2017-03-19T05:00","u":0.0016},
{"s":"KYLIA-61 U","g":3,"t":"2017-03-20T00:00","u":-0.0003},
{"s":"KYLIA-61 U","g":3,"t":"2017-03-20T22:00","u":0.0012},
{"s":"KYLIA-61 U","g":3,"t":"2017-03-21T12:00","u":-0.0003},
{"s":"KYLIA-61 U","g":3,"t":"2017-03-22T07:00","u":-0.0039},
{"s":"KYLIA-61 U","g":3,"t":"2017-03-23T00:00","u":-0.0003},
{"s":"KYLIA-61 U","g":3,"t":"2017-03-23T19:00","u":0.0026},
{"s":"KYLIA-61 U","g":3,"t":"2017-03-24T10:00","u":0.0031},
{"s":"KYLIA-61 U","g":3,"t":"2017-03-25T02:00","u":0.0009},
{"s":"KYLIA-61 U","g":3,"t":"2017-03-25T22:00","u":0.0016},
{"s":"KYLIA-61 U","g":3,"t":"2017-03-26T17:00","u":0.0016},
{"s":"KYLIA-61 U","g":3,"t":"2017-03-27T14:00","u":-0.0003},
{"s":"KYLIA-61 U","g":3,"t":"2017-03-28T14:00","u":-0.0013},
{"s":"KYLIA-61 U","g":3,"t":"2017-03-29T10:00","u":-0.0025},
{"s":"KYLIA-61 U","g":3,"t":"2017-03-30T05:00","u":-0.0017},
{"s":"KYLIA-61 U","g":3,"t":"2017-03-30T22:00","u":-0.0010},
{"s":"KYLIA-61 U","g":3,"t":"2017-03-31T12:00","u":-0.0042},
{"s":"KYLIA-61 U","g":3,"t":"2017-04-01T02:00","u":-0.0022},
{"s":"KYLIA-61 U","g":3,"t":"2017-04-01T17:00","u":-0.0027},
{"s":"KYLIA-61 U","g":3,"t":"2017-04-02T05:00","u":-0.0022},
{"s":"KYLIA-61 U","g":3,"t":"2017-04-03T02:00","u":-0.0027},
{"s":"KYLIA-61 U","g":3,"t":"2017-04-03T17:00","u":0.0002},
{"s":"KYLIA-61 U","g":3,"t":"2017-04-04T10:00","u":0.0043},
{"s":"KYLIA-61 U","g":3,"t":"2017-04-05T02:00","u":0.0012},
{"s":"KYLIA-61 U","g":3,"t":"2017-04-06T00:00","u":0.0007},
{"s":"KYLIA-61 U","g":3,"t":"2017-04-06T14:00","u":-0.0017},
{"s":"KYLIA-61 U","g":3,"t":"2017-04-07T05:00","u":-0.0051},
{"s":"KYLIA-61 U","g":3,"t":"2017-04-07T19:00","u":-0.0061},
{"s":"KYLIA-61 U","g":3,"t":"2017-04-08T10:00","u":-0.0080},
{"s":"KYLIA-61 U","g":3,"t":"2017-04-08T22:00","u":-0.0046},
{"s":"KYLIA-61 U","g":3,"t":"2017-04-09T07:00","u":-0.0022},
{"s":"KYLIA-61 U","g":3,"t":"2017-04-09T22:00","u":-0.0037},
{"s":"KYLIA-61 U","g":3,"t":"2017-04-10T12:00","u":-0.0042},
{"s":"KYLIA-61 U","g":3,"t":"2017-04-11T02:00","u":-0.0042},
{"s":"KYLIA-61 U","g":3,"t":"2017-04-11T22:00","u":-0.0066},
{"s":"KYLIA-61 U","g":3,"t":"2017-04-12T12:00","u":-0.0075},
{"s":"KYLIA-61 U","g":3,"t":"2017-04-13T02:00","u":-0.0083},
{"s":"KYLIA-61 U","g":3,"t":"2017-04-13T17:00","u":-0.0046},
{"s":"KYLIA-61 U","g":3,"t":"2017-04-14T07:00","u":-0.0017},
{"s":"KYLIA-61 U","g":3,"t":"2017-04-15T00:00","u":-0.0010},
{"s":"KYLIA-61 U","g":3,"t":"2017-04-15T17:00","u":-0.0017},
{"s":"KYLIA-61 U","g":3,"t":"2017-04-16T10:00","u":-0.0032},
{"s":"KYLIA-61 U","g":3,"t":"2017-04-17T02:00","u":-0.0042},
{"s":"KYLIA-61 U","g":3,"t":"2017-04-17T19:00","u":-0.0051},
{"s":"KYLIA-61 U","g":3,"t":"2017-04-18T10:00","u":-0.0049},
{"s":"KYLIA-61 U","g":3,"t":"2017-04-19T00:00","u":-0.0056},
{"s":"KYLIA-61 U","g":3,"t":"2017-04-19T12:00","u":-0.0071},
{"s":"KYLIA-61 U","g":3,"t":"2017-04-20T02:00","u":-0.0075},
{"s":"KYLIA-61 U","g":3,"t":"2017-04-20T17:00","u":-0.0061},
{"s":"KYLIA-61 U","g":3,"t":"2017-04-21T07:00","u":-0.0051},
{"s":"KYLIA-61 U","g":3,"t":"2017-04-21T22:00","u":-0.0061},
{"s":"KYLIA-61 U","g":3,"t":"2017-04-22T12:00","u":-0.0090},
{"s":"KYLIA-61 U","g":3,"t":"2017-04-23T00:00","u":-0.0095},
{"s":"KYLIA-61 U","g":3,"t":"2017-04-23T14:00","u":-0.0056},
{"s":"KYLIA-61 U","g":3,"t":"2017-04-24T05:00","u":-0.0042},
{"s":"KYLIA-61 U","g":3,"t":"2017-04-24T19:00","u":-0.0056},
{"s":"KYLIA-61 U","g":3,"t":"2017-04-25T17:00","u":-0.0046},
{"s":"KYLIA-61 U","g":3,"t":"2017-04-26T10:00","u":-0.0061},
{"s":"KYLIA-61 U","g":3,"t":"2017-04-27T00:00","u":-0.0037},
{"s":"KYLIA-61 U","g":3,"t":"2017-04-27T10:00","u":-0.0059},
{"s":"KYLIA-61 U","g":3,"t":"2017-04-28T07:00","u":-0.0069},
{"s":"KYLIA-61 U","g":3,"t":"2017-04-29T07:00","u":-0.0059},
{"s":"KYLIA-61 U","g":3,"t":"2017-04-30T02:00","u":-0.0054},
{"s":"KYLIA-61 U","g":3,"t":"2017-04-30T22:00","u":-0.0069},
{"s":"KYLIA-61 U","g":3,"t":"2017-05-01T22:00","u":-0.0059},
{"s":"KYLIA-61 U","g":3,"t":"2017-05-02T19:00","u":-0.0052},
{"s":"KYLIA-61 U","g":3,"t":"2017-05-03T14:00","u":-0.0073},
{"s":"KYLIA-61 U","g":3,"t":"2017-05-04T12:00","u":-0.0081},
{"s":"KYLIA-61 U","g":3,"t":"2017-05-05T10:00","u":-0.0054},
{"s":"KYLIA-61 U","g":3,"t":"2017-05-06T07:00","u":-0.0073},
{"s":"KYLIA-61 U","g":3,"t":"2017-05-07T02:00","u":-0.0083},
{"s":"KYLIA-61 U","g":3,"t":"2017-05-08T00:00","u":-0.0069},
{"s":"KYLIA-61 U","g":3,"t":"2017-05-08T17:00","u":-0.0086},
{"s":"KYLIA-61 U","g":3,"t":"2017-05-09T17:00","u":-0.0044},
{"s":"KYLIA-61 U","g":3,"t":"2017-05-10T17:00","u":-0.0059},
{"s":"KYLIA-61 U","g":3,"t":"2017-05-11T12:00","u":-0.0078},
{"s":"KYLIA-61 U","g":3,"t":"2017-05-12T05:00","u":-0.0110},
{"s":"KYLIA-61 U","g":3,"t":"2017-05-13T00:00","u":-0.0105},
{"s":"KYLIA-61 U","g":3,"t":"2017-05-13T19:00","u":-0.0100},
{"s":"KYLIA-61 U","g":3,"t":"2017-05-14T12:00","u":-0.0105},
{"s":"KYLIA-61 U","g":3,"t":"2017-05-15T10:00","u":-0.0078},
{"s":"KYLIA-61 U","g":3,"t":"2017-05-16T05:00","u":-0.0073},
{"s":"KYLIA-61 U","g":3,"t":"2017-05-16T22:00","u":-0.0073},
{"s":"KYLIA-61 U","g":3,"t":"2017-05-17T17:00","u":-0.0107},
{"s":"KYLIA-61 U","g":3,"t":"2017-05-18T14:00","u":-0.0112},
{"s":"KYLIA-61 U","g":3,"t":"2017-05-19T07:00","u":-0.0131},
{"s":"KYLIA-61 U","g":3,"t":"2017-05-20T02:00","u":-0.0112},
{"s":"KYLIA-61 U","g":3,"t":"2017-05-20T22:00","u":-0.0107},
{"s":"KYLIA-61 U","g":3,"t":"2017-05-21T14:00","u":-0.0059},
{"s":"KYLIA-61 U","g":3,"t":"2017-05-22T12:00","u":-0.0078},
{"s":"KYLIA-61 U","g":3,"t":"2017-05-23T00:00","u":-0.0100},
{"s":"KYLIA-61 U","g":3,"t":"2017-05-23T14:00","u":-0.0073},
{"s":"KYLIA-61 U","g":3,"t":"2017-05-24T12:00","u":-0.0093},
{"s":"KYLIA-61 U","g":3,"t":"2017-05-25T10:00","u":-0.0073},
{"s":"KYLIA-61 U","g":3,"t":"2017-05-26T02:00","u":-0.0054},
{"s":"KYLIA-61 U","g":3,"t":"2017-05-26T14:00","u":-0.0028},
{"s":"KYLIA-61 U","g":3,"t":"2017-05-27T05:00","u":-0.0049},
{"s":"KYLIA-61 U","g":3,"t":"2017-05-27T19:00","u":-0.0081},
{"s":"KYLIA-61 U","g":3,"t":"2017-05-28T10:00","u":-0.0088},
{"s":"KYLIA-61 U","g":3,"t":"2017-05-29T00:00","u":-0.0163},
{"s":"KYLIA-61 U","g":3,"t":"2017-05-29T12:00","u":-0.0127},
{"s":"KYLIA-61 U","g":3,"t":"2017-05-30T02:00","u":-0.0141},
{"s":"KYLIA-61 U","g":3,"t":"2017-05-31T00:00","u":-0.0168},
{"s":"KYLIA-61 U","g":3,"t":"2017-05-31T12:00","u":-0.0127},
{"s":"KYLIA-61 U","g":3,"t":"2017-06-01T12:00","u":-0.0117},
{"s":"KYLIA-61 U","g":3,"t":"2017-06-02T14:00","u":-0.0117},
{"s":"KYLIA-61 U","g":3,"t":"2017-06-03T19:00","u":-0.0119},
{"s":"KYLIA-61 U","g":3,"t":"2017-06-04T17:00","u":-0.0102},
{"s":"KYLIA-61 U","g":3,"t":"2017-06-05T10:00","u":-0.0078},
{"s":"KYLIA-61 U","g":3,"t":"2017-06-06T02:00","u":-0.0098},
{"s":"KYLIA-61 U","g":3,"t":"2017-06-06T17:00","u":-0.0136},
{"s":"KYLIA-61 U","g":3,"t":"2017-06-07T12:00","u":-0.0122},
{"s":"KYLIA-61 U","g":3,"t":"2017-06-08T05:00","u":-0.0131},
{"s":"KYLIA-61 U","g":3,"t":"2017-06-09T02:00","u":-0.0127},
{"s":"KYLIA-61 U","g":3,"t":"2017-06-09T22:00","u":-0.0122},
{"s":"KYLIA-61 U","g":3,"t":"2017-06-10T19:00","u":-0.0146},
{"s":"KYLIA-61 U","g":3,"t":"2017-06-11T17:00","u":-0.0141},
{"s":"KYLIA-61 U","g":3,"t":"2017-06-12T14:00","u":-0.0127},
{"s":"KYLIA-61 U","g":3,"t":"2017-06-13T10:00","u":-0.0117},
{"s":"KYLIA-61 U","g":3,"t":"2017-06-13T22:00","u":-0.0088},
{"s":"KYLIA-61 U","g":3,"t":"2017-06-14T10:00","u":-0.0117},
{"s":"KYLIA-61 U","g":3,"t":"2017-06-15T02:00","u":-0.0146},
{"s":"KYLIA-61 U","g":3,"t":"2017-06-15T19:00","u":-0.0141},
{"s":"KYLIA-61 U","g":3,"t":"2017-06-16T12:00","u":-0.0156},
{"s":"KYLIA-61 U","g":3,"t":"2017-06-17T07:00","u":-0.0175},
{"s":"KYLIA-61 U","g":3,"t":"2017-06-18T02:00","u":-0.0185},
{"s":"KYLIA-61 U","g":3,"t":"2017-06-18T19:00","u":-0.0160},
{"s":"KYLIA-61 U","g":3,"t":"2017-06-19T10:00","u":-0.0136},
{"s":"KYLIA-61 U","g":3,"t":"2017-06-20T07:00","u":-0.0189},
{"s":"KYLIA-61 U","g":3,"t":"2017-06-21T02:00","u":-0.0156},
{"s":"KYLIA-61 U","g":3,"t":"2017-06-21T19:00","u":-0.0141},
{"s":"KYLIA-61 U","g":3,"t":"2017-06-22T14:00","u":-0.0175},
{"s":"KYLIA-61 U","g":3,"t":"2017-06-23T07:00","u":-0.0156},
{"s":"KYLIA-61 U","g":3,"t":"2017-06-23T19:00","u":-0.0131},
{"s":"KYLIA-61 U","g":3,"t":"2017-06-24T10:00","u":-0.0160},
{"s":"KYLIA-61 U","g":3,"t":"2017-06-25T00:00","u":-0.0151},
{"s":"KYLIA-61 U","g":3,"t":"2017-06-25T19:00","u":-0.0156},
{"s":"KYLIA-61 U","g":3,"t":"2017-06-26T17:00","u":-0.0165},
{"s":"KYLIA-61 U","g":3,"t":"2017-06-27T12:00","u":-0.0156},
{"s":"KYLIA-61 U","g":3,"t":"2017-06-28T12:00","u":-0.0141},
{"s":"KYLIA-61 U","g":3,"t":"2017-06-29T07:00","u":-0.0139},
{"s":"KYLIA-61 U","g":3,"t":"2017-06-30T00:00","u":-0.0160},
{"s":"KYLIA-61 U","g":3,"t":"2017-06-30T19:00","u":-0.0187},
{"s":"KYLIA-61 U","g":3,"t":"2017-07-01T10:00","u":-0.0194},
{"s":"KYLIA-61 U","g":3,"t":"2017-07-01T17:00","u":-0.0243},
{"s":"KYLIA-61 U","g":3,"t":"2017-07-02T12:00","u":-0.0243},
{"s":"KYLIA-61 U","g":3,"t":"2017-07-03T02:00","u":-0.0201},
{"s":"KYLIA-61 U","g":3,"t":"2017-07-03T22:00","u":-0.0199},
{"s":"KYLIA-61 U","g":3,"t":"2017-07-05T02:00","u":-0.0172}
],
"blue": [
{"s":"KYLIA-60 U","g":1,"t":"2016-07-12T05:00","u":0.0067},
{"s":"KYLIA-60 U","g":1,"t":"2016-07-12T12:00","u":0.0030},
{"s":"KYLIA-60 U","g":1,"t":"2016-07-12T22:00","u":0.0081},
{"s":"KYLIA-60 U","g":1,"t":"2016-07-13T07:00","u":0.0120},
{"s":"KYLIA-60 U","g":1,"t":"2016-07-13T22:00","u":0.0154},
{"s":"KYLIA-60 U","g":1,"t":"2016-07-14T12:00","u":0.0173},
{"s":"KYLIA-60 U","g":1,"t":"2016-07-15T05:00","u":0.0183},
{"s":"KYLIA-60 U","g":1,"t":"2016-07-15T19:00","u":0.0192},
{"s":"KYLIA-60 U","g":1,"t":"2016-07-16T10:00","u":0.0105},
{"s":"KYLIA-60 U","g":1,"t":"2016-07-16T22:00","u":0.0033},
{"s":"KYLIA-60 U","g":1,"t":"2016-07-17T07:00","u":0.0187},
{"s":"KYLIA-60 U","g":1,"t":"2016-07-17T19:00","u":0.0308},
{"s":"KYLIA-60 U","g":1,"t":"2016-07-18T10:00","u":0.0303},
{"s":"KYLIA-60 U","g":1,"t":"2016-07-18T17:00","u":0.0187},
{"s":"KYLIA-60 U","g":1,"t":"2016-07-19T05:00","u":0.0100},
{"s":"KYLIA-60 U","g":1,"t":"2016-07-19T22:00","u":0.0091},
{"s":"KYLIA-60 U","g":1,"t":"2016-07-20T10:00","u":0.0115},
{"s":"KYLIA-60 U","g":1,"t":"2016-07-21T02:00","u":0.0052},
{"s":"KYLIA-60 U","g":1,"t":"2016-07-21T12:00","u":0.0081},
{"s":"KYLIA-60 U","g":1,"t":"2016-07-22T05:00","u":0.0163},
{"s":"KYLIA-60 U","g":1,"t":"2016-07-22T22:00","u":0.0166},
{"s":"KYLIA-60 U","g":1,"t":"2016-07-23T14:00","u":0.0115},
{"s":"KYLIA-60 U","g":1,"t":"2016-07-24T07:00","u":0.0096},
{"s":"KYLIA-60 U","g":1,"t":"2016-07-25T02:00","u":0.0086},
{"s":"KYLIA-60 U","g":1,"t":"2016-07-25T19:00","u":0.0125},
{"s":"KYLIA-60 U","g":1,"t":"2016-07-26T14:00","u":0.0139},
{"s":"KYLIA-60 U","g":1,"t":"2016-07-27T10:00","u":0.0110},
{"s":"KYLIA-60 U","g":1,"t":"2016-07-28T02:00","u":0.0081},
{"s":"KYLIA-60 U","g":1,"t":"2016-07-28T22:00","u":0.0067},
{"s":"KYLIA-60 U","g":1,"t":"2016-07-29T19:00","u":0.0081},
{"s":"KYLIA-60 U","g":1,"t":"2016-07-30T12:00","u":0.0096},
{"s":"KYLIA-60 U","g":1,"t":"2016-07-31T07:00","u":0.0045},
{"s":"KYLIA-60 U","g":1,"t":"2016-08-01T02:00","u":0.0071},
{"s":"KYLIA-60 U","g":1,"t":"2016-08-01T19:00","u":0.0125},
{"s":"KYLIA-60 U","g":1,"t":"2016-08-02T17:00","u":0.0081},
{"s":"KYLIA-60 U","g":1,"t":"2016-08-03T05:00","u":0.0042},
{"s":"KYLIA-60 U","g":1,"t":"2016-08-03T22:00","u":0.0028},
{"s":"KYLIA-60 U","g":1,"t":"2016-08-04T14:00","u":0.0071},
{"s":"KYLIA-60 U","g":1,"t":"2016-08-05T07:00","u":0.0091},
{"s":"KYLIA-60 U","g":1,"t":"2016-08-06T05:00","u":0.0105},
{"s":"KYLIA-60 U","g":1,"t":"2016-08-07T00:00","u":0.0120},
{"s":"KYLIA-60 U","g":1,"t":"2016-08-07T17:00","u":0.0105},
{"s":"KYLIA-60 U","g":1,"t":"2016-08-08T12:00","u":0.0093},
{"s":"KYLIA-60 U","g":1,"t":"2016-08-09T10:00","u":0.0091},
{"s":"KYLIA-60 U","g":1,"t":"2016-08-10T00:00","u":0.0091},
{"s":"KYLIA-60 U","g":1,"t":"2016-08-10T22:00","u":0.0096},
{"s":"KYLIA-60 U","g":1,"t":"2016-08-11T12:00","u":0.0110},
{"s":"KYLIA-60 U","g":1,"t":"2016-08-12T02:00","u":0.0105},
{"s":"KYLIA-60 U","g":1,"t":"2016-08-12T22:00","u":0.0091},
{"s":"KYLIA-60 U","g":1,"t":"2016-08-13T19:00","u":0.0081},
{"s":"KYLIA-60 U","g":1,"t":"2016-08-14T17:00","u":0.0086},
{"s":"KYLIA-60 U","g":1,"t":"2016-08-15T14:00","u":0.0076},
{"s":"KYLIA-60 U","g":1,"t":"2016-08-16T10:00","u":0.0081},
{"s":"KYLIA-60 U","g":1,"t":"2016-08-17T02:00","u":0.0071},
{"s":"KYLIA-60 U","g":1,"t":"2016-08-17T22:00","u":0.0091},
{"s":"KYLIA-60 U","g":1,"t":"2016-08-18T12:00","u":0.0120},
{"s":"KYLIA-60 U","g":1,"t":"2016-08-19T02:00","u":0.0154},
{"s":"KYLIA-60 U","g":1,"t":"2016-08-19T17:00","u":0.0129},
{"s":"KYLIA-60 U","g":1,"t":"2016-08-20T10:00","u":0.0091},
{"s":"KYLIA-60 U","g":1,"t":"2016-08-21T02:00","u":0.0042},
{"s":"KYLIA-60 U","g":1,"t":"2016-08-21T12:00","u":0.0013},
{"s":"KYLIA-60 U","g":1,"t":"2016-08-22T00:00","u":-0.0016},
{"s":"KYLIA-60 U","g":1,"t":"2016-08-22T14:00","u":0.0067},
{"s":"KYLIA-60 U","g":1,"t":"2016-08-23T05:00","u":0.0139},
{"s":"KYLIA-60 U","g":1,"t":"2016-08-23T19:00","u":0.0168},
{"s":"KYLIA-60 U","g":1,"t":"2016-08-24T10:00","u":0.0115},
{"s":"KYLIA-60 U","g":1,"t":"2016-08-25T00:00","u":0.0139},
{"s":"KYLIA-60 U","g":1,"t":"2016-08-25T14:00","u":0.0125},
{"s":"KYLIA-60 U","g":1,"t":"2016-08-26T02:00","u":0.0129},
{"s":"KYLIA-60 U","g":1,"t":"2016-08-26T17:00","u":0.0042},
{"s":"KYLIA-60 U","g":1,"t":"2016-08-27T07:00","u":-0.0069},
{"s":"KYLIA-60 U","g":1,"t":"2016-08-28T00:00","u":-0.0088},
{"s":"KYLIA-60 U","g":1,"t":"2016-08-28T14:00","u":0.0033},
{"s":"KYLIA-60 U","g":1,"t":"2016-08-29T10:00","u":0.0071},
{"s":"KYLIA-60 U","g":1,"t":"2016-08-30T00:00","u":0.0062},
{"s":"KYLIA-60 U","g":1,"t":"2016-08-30T14:00","u":0.0013},
{"s":"KYLIA-60 U","g":1,"t":"2016-08-31T05:00","u":-0.0049},
{"s":"KYLIA-60 U","g":1,"t":"2016-08-31T19:00","u":0.0047},
{"s":"KYLIA-60 U","g":1,"t":"2016-09-01T10:00","u":0.0052},
{"s":"KYLIA-60 U","g":1,"t":"2016-09-02T05:00","u":0.0038},
{"s":"KYLIA-60 U","g":1,"t":"2016-09-02T22:00","u":0.0042},
{"s":"KYLIA-60 U","g":1,"t":"2016-09-03T14:00","u":0.0023},
{"s":"KYLIA-60 U","g":1,"t":"2016-09-04T07:00","u":0.0052},
{"s":"KYLIA-60 U","g":1,"t":"2016-09-05T05:00","u":0.0064},
{"s":"KYLIA-60 U","g":1,"t":"2016-09-05T22:00","u":0.0038},
{"s":"KYLIA-60 U","g":1,"t":"2016-09-06T14:00","u":0.0004},
{"s":"KYLIA-60 U","g":1,"t":"2016-09-07T07:00","u":-0.0001},
{"s":"KYLIA-60 U","g":1,"t":"2016-09-08T02:00","u":0.0009},
{"s":"KYLIA-60 U","g":1,"t":"2016-09-08T19:00","u":0.0033},
{"s":"KYLIA-60 U","g":1,"t":"2016-09-09T14:00","u":0.0052},
{"s":"KYLIA-60 U","g":1,"t":"2016-09-10T10:00","u":0.0047},
{"s":"KYLIA-60 U","g":1,"t":"2016-09-11T02:00","u":0.0071},
{"s":"KYLIA-60 U","g":1,"t":"2016-09-11T22:00","u":0.0062},
{"s":"KYLIA-60 U","g":1,"t":"2016-09-12T17:00","u":0.0067},
{"s":"KYLIA-60 U","g":1,"t":"2016-09-13T10:00","u":0.0076},
{"s":"KYLIA-60 U","g":1,"t":"2016-09-13T22:00","u":0.0086},
{"s":"KYLIA-60 U","g":1,"t":"2016-09-14T14:00","u":0.0100},
{"s":"KYLIA-60 U","g":1,"t":"2016-09-15T05:00","u":0.0081},
{"s":"KYLIA-60 U","g":1,"t":"2016-09-15T19:00","u":0.0052},
{"s":"KYLIA-60 U","g":1,"t":"2016-09-16T14:00","u":0.0042},
{"s":"KYLIA-60 U","g":1,"t":"2016-09-17T05:00","u":0.0028},
{"s":"KYLIA-60 U","g":1,"t":"2016-09-17T22:00","u":0.0052},
{"s":"KYLIA-60 U","g":1,"t":"2016-09-18T14:00","u":0.0047},
{"s":"KYLIA-60 U","g":1,"t":"2016-09-19T07:00","u":0.0047},
{"s":"KYLIA-60 U","g":1,"t":"2016-09-20T02:00","u":0.0028},
{"s":"KYLIA-60 U","g":1,"t":"2016-09-21T00:00","u":0.0009},
{"s":"KYLIA-60 U","g":1,"t":"2016-09-21T17:00","u":-0.0020},
{"s":"KYLIA-60 U","g":1,"t":"2016-09-22T10:00","u":0.0013},
{"s":"KYLIA-60 U","g":1,"t":"2016-09-23T02:00","u":0.0042},
{"s":"KYLIA-60 U","g":1,"t":"2016-09-23T19:00","u":0.0062},
{"s":"KYLIA-60 U","g":1,"t":"2016-09-24T12:00","u":0.0028},
{"s":"KYLIA-60 U","g":1,"t":"2016-09-25T05:00","u":0.0009},
{"s":"KYLIA-60 U","g":1,"t":"2016-09-26T00:00","u":0.0047},
{"s":"KYLIA-60 U","g":1,"t":"2016-09-26T14:00","u":0.0071},
{"s":"KYLIA-60 U","g":1,"t":"2016-09-27T07:00","u":0.0052},
{"s":"KYLIA-60 U","g":1,"t":"2016-09-28T00:00","u":0.0047},
{"s":"KYLIA-60 U","g":1,"t":"2016-09-28T17:00","u":0.0038},
{"s":"KYLIA-60 U","g":1,"t":"2016-09-29T12:00","u":0.0042},
{"s":"KYLIA-60 U","g":1,"t":"2016-09-30T10:00","u":0.0033},
{"s":"KYLIA-60 U","g":1,"t":"2016-10-01T02:00","u":0.0038},
{"s":"KYLIA-60 U","g":1,"t":"2016-10-01T19:00","u":0.0023},
{"s":"KYLIA-60 U","g":1,"t":"2016-10-02T12:00","u":0.0042},
{"s":"KYLIA-60 U","g":1,"t":"2016-10-03T05:00","u":0.0086},
{"s":"KYLIA-60 U","g":1,"t":"2016-10-03T22:00","u":0.0091},
{"s":"KYLIA-60 U","g":1,"t":"2016-10-04T10:00","u":0.0071},
{"s":"KYLIA-60 U","g":1,"t":"2016-10-04T19:00","u":0.0004},
{"s":"KYLIA-60 U","g":1,"t":"2016-10-05T14:00","u":-0.0001},
{"s":"KYLIA-60 U","g":1,"t":"2016-10-06T07:00","u":0.0028},
{"s":"KYLIA-60 U","g":1,"t":"2016-10-06T22:00","u":0.0042},
{"s":"KYLIA-60 U","g":1,"t":"2016-10-07T14:00","u":0.0047},
{"s":"KYLIA-60 U","g":1,"t":"2016-10-08T10:00","u":0.0028},
{"s":"KYLIA-60 U","g":1,"t":"2016-10-09T02:00","u":-0.0011},
{"s":"KYLIA-60 U","g":1,"t":"2016-10-09T19:00","u":-0.0037},
{"s":"KYLIA-60 U","g":1,"t":"2016-10-10T12:00","u":-0.0025},
{"s":"KYLIA-60 U","g":1,"t":"2016-10-11T05:00","u":-0.0030},
{"s":"KYLIA-60 U","g":1,"t":"2016-10-11T22:00","u":-0.0016},
{"s":"KYLIA-60 U","g":1,"t":"2016-10-12T14:00","u":-0.0011},
{"s":"KYLIA-60 U","g":1,"t":"2016-10-13T00:00","u":0.0086},
{"s":"KYLIA-60 U","g":1,"t":"2016-10-13T12:00","u":0.0183},
{"s":"KYLIA-60 U","g":1,"t":"2016-10-14T00:00","u":0.0086},
{"s":"KYLIA-60 U","g":1,"t":"2016-10-14T10:00","u":0.0062},
{"s":"KYLIA-60 U","g":1,"t":"2016-10-15T02:00","u":-0.0001},
{"s":"KYLIA-60 U","g":1,"t":"2016-10-15T19:00","u":-0.0006},
{"s":"KYLIA-60 U","g":1,"t":"2016-10-16T14:00","u":0.0009},
{"s":"KYLIA-60 U","g":1,"t":"2016-10-17T05:00","u":0.0004},
{"s":"KYLIA-60 U","g":1,"t":"2016-10-17T19:00","u":-0.0025},
{"s":"KYLIA-60 U","g":1,"t":"2016-10-18T07:00","u":-0.0049},
{"s":"KYLIA-60 U","g":1,"t":"2016-10-18T22:00","u":-0.0071},
{"s":"KYLIA-60 U","g":1,"t":"2016-10-19T14:00","u":-0.0044},
{"s":"KYLIA-60 U","g":1,"t":"2016-10-20T07:00","u":-0.0016},
{"s":"KYLIA-60 U","g":1,"t":"2016-10-21T00:00","u":-0.0035},
{"s":"KYLIA-60 U","g":1,"t":"2016-10-21T17:00","u":-0.0020},
{"s":"KYLIA-60 U","g":1,"t":"2016-10-22T10:00","u":-0.0006},
{"s":"KYLIA-60 U","g":1,"t":"2016-10-23T02:00","u":0.0009},
{"s":"KYLIA-60 U","g":1,"t":"2016-10-23T22:00","u":0.0013},
{"s":"KYLIA-60 U","g":1,"t":"2016-10-24T14:00","u":-0.0011},
{"s":"KYLIA-60 U","g":1,"t":"2016-10-25T07:00","u":-0.0037},
{"s":"KYLIA-60 U","g":1,"t":"2016-10-26T00:00","u":-0.0025},
{"s":"KYLIA-60 U","g":1,"t":"2016-10-26T17:00","u":-0.0030},
{"s":"KYLIA-60 U","g":1,"t":"2016-10-27T10:00","u":-0.0025},
{"s":"KYLIA-60 U","g":1,"t":"2016-10-28T02:00","u":-0.0001},
{"s":"KYLIA-60 U","g":1,"t":"2016-10-28T19:00","u":0.0018},
{"s":"KYLIA-60 U","g":1,"t":"2016-10-29T12:00","u":0.0001},
{"s":"KYLIA-60 U","g":1,"t":"2016-10-30T02:00","u":-0.0016},
{"s":"KYLIA-60 U","g":1,"t":"2016-10-30T22:00","u":-0.0006},
{"s":"KYLIA-60 U","g":1,"t":"2016-10-31T14:00","u":-0.0001},
{"s":"KYLIA-60 U","g":1,"t":"2016-11-01T10:00","u":-0.0003},
{"s":"KYLIA-60 U","g":1,"t":"2016-11-02T07:00","u":-0.0018},
{"s":"KYLIA-60 U","g":1,"t":"2016-11-03T05:00","u":-0.0023},
{"s":"KYLIA-60 U","g":1,"t":"2016-11-04T02:00","u":-0.0030},
{"s":"KYLIA-60 U","g":1,"t":"2016-11-04T22:00","u":-0.0040},
{"s":"KYLIA-60 U","g":1,"t":"2016-11-05T19:00","u":-0.0059},
{"s":"KYLIA-60 U","g":1,"t":"2016-11-06T12:00","u":-0.0044},
{"s":"KYLIA-60 U","g":1,"t":"2016-11-07T07:00","u":-0.0028},
{"s":"KYLIA-60 U","g":1,"t":"2016-11-08T02:00","u":-0.0030},
{"s":"KYLIA-60 U","g":1,"t":"2016-11-08T19:00","u":-0.0011},
{"s":"KYLIA-60 U","g":1,"t":"2016-11-09T12:00","u":0.0023},
{"s":"KYLIA-60 U","g":1,"t":"2016-11-10T02:00","u":0.0054},
{"s":"KYLIA-60 U","g":1,"t":"2016-11-10T17:00","u":0.0028},
{"s":"KYLIA-60 U","g":1,"t":"2016-11-11T10:00","u":0.0023},
{"s":"KYLIA-60 U","g":1,"t":"2016-11-12T02:00","u":-0.0030},
{"s":"KYLIA-60 U","g":1,"t":"2016-11-12T19:00","u":-0.0078},
{"s":"KYLIA-60 U","g":1,"t":"2016-11-13T12:00","u":-0.0073},
{"s":"KYLIA-60 U","g":1,"t":"2016-11-14T05:00","u":-0.0059},
{"s":"KYLIA-60 U","g":1,"t":"2016-11-14T19:00","u":-0.0025},
{"s":"KYLIA-60 U","g":1,"t":"2016-11-15T10:00","u":-0.0059},
{"s":"KYLIA-60 U","g":1,"t":"2016-11-16T00:00","u":-0.0093},
{"s":"KYLIA-60 U","g":1,"t":"2016-11-16T17:00","u":-0.0078},
{"s":"KYLIA-60 U","g":1,"t":"2016-11-17T07:00","u":-0.0093},
{"s":"KYLIA-60 U","g":1,"t":"2016-11-18T00:00","u":-0.0095},
{"s":"KYLIA-60 U","g":1,"t":"2016-11-18T17:00","u":-0.0069},
{"s":"KYLIA-60 U","g":1,"t":"2016-11-19T10:00","u":-0.0035},
{"s":"KYLIA-60 U","g":1,"t":"2016-11-20T02:00","u":-0.0006},
{"s":"KYLIA-60 U","g":1,"t":"2016-11-20T19:00","u":-0.0035},
{"s":"KYLIA-60 U","g":1,"t":"2016-11-21T12:00","u":-0.0078},
{"s":"KYLIA-60 U","g":1,"t":"2016-11-22T05:00","u":-0.0093},
{"s":"KYLIA-60 U","g":1,"t":"2016-11-22T22:00","u":-0.0086},
{"s":"KYLIA-60 U","g":1,"t":"2016-11-23T14:00","u":-0.0093},
{"s":"KYLIA-60 U","g":1,"t":"2016-11-24T07:00","u":-0.0083},
{"s":"KYLIA-60 U","g":1,"t":"2016-11-25T00:00","u":-0.0059},
{"s":"KYLIA-60 U","g":1,"t":"2016-11-25T17:00","u":-0.0054},
{"s":"KYLIA-60 U","g":1,"t":"2016-11-26T10:00","u":-0.0069},
{"s":"KYLIA-60 U","g":1,"t":"2016-11-27T00:00","u":-0.0102},
{"s":"KYLIA-60 U","g":1,"t":"2016-11-27T14:00","u":-0.0107},
{"s":"KYLIA-60 U","g":1,"t":"2016-11-28T07:00","u":-0.0122},
{"s":"KYLIA-60 U","g":1,"t":"2016-11-28T22:00","u":-0.0139},
{"s":"KYLIA-60 U","g":1,"t":"2016-11-29T12:00","u":-0.0107},
{"s":"KYLIA-60 U","g":1,"t":"2016-11-30T02:00","u":-0.0054},
{"s":"KYLIA-60 U","g":1,"t":"2016-11-30T17:00","u":-0.0083},
{"s":"KYLIA-60 U","g":1,"t":"2016-12-01T10:00","u":-0.0107},
{"s":"KYLIA-60 U","g":1,"t":"2016-12-02T02:00","u":-0.0122},
{"s":"KYLIA-60 U","g":1,"t":"2016-12-02T19:00","u":-0.0136},
{"s":"KYLIA-60 U","g":1,"t":"2016-12-03T12:00","u":-0.0146},
{"s":"KYLIA-60 U","g":1,"t":"2016-12-04T05:00","u":-0.0131},
{"s":"KYLIA-60 U","g":1,"t":"2016-12-04T19:00","u":-0.0107},
{"s":"KYLIA-60 U","g":1,"t":"2016-12-05T10:00","u":-0.0105},
{"s":"KYLIA-60 U","g":1,"t":"2016-12-06T02:00","u":-0.0102},
{"s":"KYLIA-60 U","g":1,"t":"2016-12-06T19:00","u":-0.0054},
{"s":"KYLIA-60 U","g":1,"t":"2016-12-07T10:00","u":-0.0064},
{"s":"KYLIA-60 U","g":1,"t":"2016-12-08T00:00","u":-0.0078},
{"s":"KYLIA-60 U","g":1,"t":"2016-12-08T17:00","u":-0.0107},
{"s":"KYLIA-60 U","g":1,"t":"2016-12-09T10:00","u":-0.0151},
{"s":"KYLIA-60 U","g":1,"t":"2016-12-10T02:00","u":-0.0160},
{"s":"KYLIA-60 U","g":1,"t":"2016-12-10T19:00","u":-0.0185},
{"s":"KYLIA-60 U","g":1,"t":"2016-12-11T12:00","u":-0.0194},
{"s":"KYLIA-60 U","g":1,"t":"2016-12-12T02:00","u":-0.0185},
{"s":"KYLIA-60 U","g":1,"t":"2016-12-12T17:00","u":-0.0216},
{"s":"KYLIA-60 U","g":1,"t":"2016-12-13T05:00","u":-0.0189},
{"s":"KYLIA-60 U","g":1,"t":"2016-12-13T22:00","u":-0.0175},
{"s":"KYLIA-60 U","g":1,"t":"2016-12-14T14:00","u":-0.0146},
{"s":"KYLIA-60 U","g":1,"t":"2016-12-15T05:00","u":-0.0107},
{"s":"KYLIA-60 U","g":1,"t":"2016-12-15T19:00","u":-0.0122},
{"s":"KYLIA-60 U","g":1,"t":"2016-12-16T12:00","u":-0.0151},
{"s":"KYLIA-60 U","g":1,"t":"2016-12-17T05:00","u":-0.0153},
{"s":"KYLIA-60 U","g":1,"t":"2016-12-17T22:00","u":-0.0151},
{"s":"KYLIA-60 U","g":1,"t":"2016-12-18T14:00","u":-0.0151},
{"s":"KYLIA-60 U","g":1,"t":"2016-12-19T05:00","u":-0.0127},
{"s":"KYLIA-60 U","g":1,"t":"2016-12-19T19:00","u":-0.0151},
{"s":"KYLIA-60 U","g":1,"t":"2016-12-20T10:00","u":-0.0141},
{"s":"KYLIA-60 U","g":1,"t":"2016-12-21T00:00","u":-0.0156},
{"s":"KYLIA-60 U","g":1,"t":"2016-12-21T14:00","u":-0.0141},
{"s":"KYLIA-60 U","g":1,"t":"2016-12-22T05:00","u":-0.0170},
{"s":"KYLIA-60 U","g":1,"t":"2016-12-22T19:00","u":-0.0151},
{"s":"KYLIA-60 U","g":1,"t":"2016-12-23T12:00","u":-0.0141},
{"s":"KYLIA-60 U","g":1,"t":"2016-12-24T02:00","u":-0.0127},
{"s":"KYLIA-60 U","g":1,"t":"2016-12-24T17:00","u":-0.0156},
{"s":"KYLIA-60 U","g":1,"t":"2016-12-25T07:00","u":-0.0170},
{"s":"KYLIA-60 U","g":1,"t":"2016-12-26T00:00","u":-0.0192},
{"s":"KYLIA-60 U","g":1,"t":"2016-12-26T17:00","u":-0.0165},
{"s":"KYLIA-60 U","g":1,"t":"2016-12-27T10:00","u":-0.0168},
{"s":"KYLIA-60 U","g":1,"t":"2016-12-28T02:00","u":-0.0131},
{"s":"KYLIA-60 U","g":1,"t":"2016-12-28T17:00","u":-0.0098},
{"s":"KYLIA-60 U","g":1,"t":"2016-12-29T00:00","u":-0.0076},
{"s":"KYLIA-60 U","g":1,"t":"2016-12-29T14:00","u":-0.0107},
{"s":"KYLIA-60 U","g":1,"t":"2016-12-30T00:00","u":-0.0136},
{"s":"KYLIA-60 U","g":1,"t":"2016-12-30T14:00","u":-0.0160},
{"s":"KYLIA-60 U","g":1,"t":"2016-12-31T02:00","u":-0.0189},
{"s":"KYLIA-60 U","g":1,"t":"2016-12-31T17:00","u":-0.0216}
],
"black": [
{"s":"KYLIA-62 U","g":1,"t":"2016-07-12T05:00","u":0.0248},
{"s":"KYLIA-62 U","g":1,"t":"2016-07-12T12:00","u":0.0229},
{"s":"KYLIA-62 U","g":1,"t":"2016-07-13T02:00","u":0.0205},
{"s":"KYLIA-62 U","g":1,"t":"2016-07-13T17:00","u":0.0200},
{"s":"KYLIA-62 U","g":1,"t":"2016-07-14T12:00","u":0.0205},
{"s":"KYLIA-62 U","g":1,"t":"2016-07-15T05:00","u":0.0181},
{"s":"KYLIA-62 U","g":1,"t":"2016-07-15T22:00","u":0.0176},
{"s":"KYLIA-62 U","g":1,"t":"2016-07-16T14:00","u":0.0243},
{"s":"KYLIA-62 U","g":1,"t":"2016-07-17T07:00","u":0.0229},
{"s":"KYLIA-62 U","g":1,"t":"2016-07-18T00:00","u":0.0190},
{"s":"KYLIA-62 U","g":1,"t":"2016-07-19T00:00","u":0.0243},
{"s":"KYLIA-62 U","g":1,"t":"2016-07-19T17:00","u":0.0219},
{"s":"KYLIA-62 U","g":1,"t":"2016-07-20T10:00","u":0.0229},
{"s":"KYLIA-62 U","g":1,"t":"2016-07-21T02:00","u":0.0200},
{"s":"KYLIA-62 U","g":1,"t":"2016-07-21T19:00","u":0.0243},
{"s":"KYLIA-62 U","g":1,"t":"2016-07-22T12:00","u":0.0219},
{"s":"KYLIA-62 U","g":1,"t":"2016-07-23T05:00","u":0.0190},
{"s":"KYLIA-62 U","g":1,"t":"2016-07-23T22:00","u":0.0205},
{"s":"KYLIA-62 U","g":1,"t":"2016-07-24T14:00","u":0.0229},
{"s":"KYLIA-62 U","g":1,"t":"2016-07-25T10:00","u":0.0214},
{"s":"KYLIA-62 U","g":1,"t":"2016-07-26T05:00","u":0.0224},
{"s":"KYLIA-62 U","g":1,"t":"2016-07-27T05:00","u":0.0227},
{"s":"KYLIA-62 U","g":1,"t":"2016-07-28T02:00","u":0.0210},
{"s":"KYLIA-62 U","g":1,"t":"2016-07-28T22:00","u":0.0190},
{"s":"KYLIA-62 U","g":1,"t":"2016-07-29T19:00","u":0.0186},
{"s":"KYLIA-62 U","g":1,"t":"2016-07-30T17:00","u":0.0190},
{"s":"KYLIA-62 U","g":1,"t":"2016-07-31T17:00","u":0.0166},
{"s":"KYLIA-62 U","g":1,"t":"2016-08-01T12:00","u":0.0190},
{"s":"KYLIA-62 U","g":1,"t":"2016-08-02T07:00","u":0.0181},
{"s":"KYLIA-62 U","g":1,"t":"2016-08-03T00:00","u":0.0171},
{"s":"KYLIA-62 U","g":1,"t":"2016-08-03T19:00","u":0.0181},
{"s":"KYLIA-62 U","g":1,"t":"2016-08-04T14:00","u":0.0195},
{"s":"KYLIA-62 U","g":1,"t":"2016-08-05T14:00","u":0.0205},
{"s":"KYLIA-62 U","g":1,"t":"2016-08-06T10:00","u":0.0214},
{"s":"KYLIA-62 U","g":1,"t":"2016-08-07T05:00","u":0.0200},
{"s":"KYLIA-62 U","g":1,"t":"2016-08-07T22:00","u":0.0190},
{"s":"KYLIA-62 U","g":1,"t":"2016-08-08T22:00","u":0.0157},
{"s":"KYLIA-62 U","g":1,"t":"2016-08-09T17:00","u":0.0157},
{"s":"KYLIA-62 U","g":1,"t":"2016-08-10T12:00","u":0.0210},
{"s":"KYLIA-62 U","g":1,"t":"2016-08-11T10:00","u":0.0205},
{"s":"KYLIA-62 U","g":1,"t":"2016-08-12T10:00","u":0.0210},
{"s":"KYLIA-62 U","g":1,"t":"2016-08-13T05:00","u":0.0205},
{"s":"KYLIA-62 U","g":1,"t":"2016-08-14T00:00","u":0.0190},
{"s":"KYLIA-62 U","g":1,"t":"2016-08-15T00:00","u":0.0166},
{"s":"KYLIA-62 U","g":1,"t":"2016-08-15T22:00","u":0.0161},
{"s":"KYLIA-62 U","g":1,"t":"2016-08-16T19:00","u":0.0181},
{"s":"KYLIA-62 U","g":1,"t":"2016-08-17T14:00","u":0.0200},
{"s":"KYLIA-62 U","g":1,"t":"2016-08-18T07:00","u":0.0171},
{"s":"KYLIA-62 U","g":1,"t":"2016-08-19T02:00","u":0.0166},
{"s":"KYLIA-62 U","g":1,"t":"2016-08-19T22:00","u":0.0210},
{"s":"KYLIA-62 U","g":1,"t":"2016-08-20T14:00","u":0.0224},
{"s":"KYLIA-62 U","g":1,"t":"2016-08-21T10:00","u":0.0190},
{"s":"KYLIA-62 U","g":1,"t":"2016-08-22T05:00","u":0.0166},
{"s":"KYLIA-62 U","g":1,"t":"2016-08-23T05:00","u":0.0190},
{"s":"KYLIA-62 U","g":1,"t":"2016-08-24T02:00","u":0.0210},
{"s":"KYLIA-62 U","g":1,"t":"2016-08-25T00:00","u":0.0219},
{"s":"KYLIA-62 U","g":1,"t":"2016-08-25T14:00","u":0.0200},
{"s":"KYLIA-62 U","g":1,"t":"2016-08-26T02:00","u":0.0166},
{"s":"KYLIA-62 U","g":1,"t":"2016-08-26T17:00","u":0.0157},
{"s":"KYLIA-62 U","g":1,"t":"2016-08-27T17:00","u":0.0229},
{"s":"KYLIA-62 U","g":1,"t":"2016-08-28T14:00","u":0.0190},
{"s":"KYLIA-62 U","g":1,"t":"2016-08-29T07:00","u":0.0166},
{"s":"KYLIA-62 U","g":1,"t":"2016-08-30T00:00","u":0.0200},
{"s":"KYLIA-62 U","g":1,"t":"2016-08-30T19:00","u":0.0205},
{"s":"KYLIA-62 U","g":1,"t":"2016-08-31T19:00","u":0.0186},
{"s":"KYLIA-62 U","g":1,"t":"2016-09-01T17:00","u":0.0171},
{"s":"KYLIA-62 U","g":1,"t":"2016-09-02T12:00","u":0.0161},
{"s":"KYLIA-62 U","g":1,"t":"2016-09-03T10:00","u":0.0181},
{"s":"KYLIA-62 U","g":1,"t":"2016-09-04T07:00","u":0.0205},
{"s":"KYLIA-62 U","g":1,"t":"2016-09-05T05:00","u":0.0210},
{"s":"KYLIA-62 U","g":1,"t":"2016-09-06T00:00","u":0.0190},
{"s":"KYLIA-62 U","g":1,"t":"2016-09-06T22:00","u":0.0210},
{"s":"KYLIA-62 U","g":1,"t":"2016-09-07T19:00","u":0.0214},
{"s":"KYLIA-62 U","g":1,"t":"2016-09-08T19:00","u":0.0171},
{"s":"KYLIA-62 U","g":1,"t":"2016-09-09T14:00","u":0.0181},
{"s":"KYLIA-62 U","g":1,"t":"2016-09-10T10:00","u":0.0157},
{"s":"KYLIA-62 U","g":1,"t":"2016-09-11T07:00","u":0.0181},
{"s":"KYLIA-62 U","g":1,"t":"2016-09-12T07:00","u":0.0190},
{"s":"KYLIA-62 U","g":1,"t":"2016-09-13T02:00","u":0.0181},
{"s":"KYLIA-62 U","g":1,"t":"2016-09-13T22:00","u":0.0195},
{"s":"KYLIA-62 U","g":1,"t":"2016-09-14T22:00","u":0.0205},
{"s":"KYLIA-62 U","g":1,"t":"2016-09-15T19:00","u":0.0222},
{"s":"KYLIA-62 U","g":1,"t":"2016-09-16T14:00","u":0.0200},
{"s":"KYLIA-62 U","g":1,"t":"2016-09-17T12:00","u":0.0190},
{"s":"KYLIA-62 U","g":1,"t":"2016-09-18T10:00","u":0.0181},
{"s":"KYLIA-62 U","g":1,"t":"2016-09-19T07:00","u":0.0195},
{"s":"KYLIA-62 U","g":1,"t":"2016-09-20T02:00","u":0.0205},
{"s":"KYLIA-62 U","g":1,"t":"2016-09-21T00:00","u":0.0195},
{"s":"KYLIA-62 U","g":1,"t":"2016-09-21T22:00","u":0.0181},
{"s":"KYLIA-62 U","g":1,"t":"2016-09-22T19:00","u":0.0171},
{"s":"KYLIA-62 U","g":1,"t":"2016-09-23T19:00","u":0.0166},
{"s":"KYLIA-62 U","g":1,"t":"2016-09-24T17:00","u":0.0176},
{"s":"KYLIA-62 U","g":1,"t":"2016-09-25T14:00","u":0.0166},
{"s":"KYLIA-62 U","g":1,"t":"2016-09-26T14:00","u":0.0181},
{"s":"KYLIA-62 U","g":1,"t":"2016-09-27T12:00","u":0.0190},
{"s":"KYLIA-62 U","g":1,"t":"2016-09-28T12:00","u":0.0195},
{"s":"KYLIA-62 U","g":1,"t":"2016-09-29T10:00","u":0.0190},
{"s":"KYLIA-62 U","g":1,"t":"2016-09-30T10:00","u":0.0200},
{"s":"KYLIA-62 U","g":1,"t":"2016-10-01T07:00","u":0.0195},
{"s":"KYLIA-62 U","g":1,"t":"2016-10-02T07:00","u":0.0190},
{"s":"KYLIA-62 U","g":1,"t":"2016-10-03T02:00","u":0.0181},
{"s":"KYLIA-62 U","g":1,"t":"2016-10-03T22:00","u":0.0186},
{"s":"KYLIA-62 U","g":1,"t":"2016-10-04T19:00","u":0.0195},
{"s":"KYLIA-62 U","g":1,"t":"2016-10-05T19:00","u":0.0190},
{"s":"KYLIA-62 U","g":1,"t":"2016-10-06T14:00","u":0.0181},
{"s":"KYLIA-62 U","g":1,"t":"2016-10-07T10:00","u":0.0171},
{"s":"KYLIA-62 U","g":1,"t":"2016-10-08T10:00","u":0.0190},
{"s":"KYLIA-62 U","g":1,"t":"2016-10-09T07:00","u":0.0200},
{"s":"KYLIA-62 U","g":1,"t":"2016-10-10T05:00","u":0.0186},
{"s":"KYLIA-62 U","g":1,"t":"2016-10-11T05:00","u":0.0176},
{"s":"KYLIA-62 U","g":1,"t":"2016-10-12T02:00","u":0.0181},
{"s":"KYLIA-62 U","g":1,"t":"2016-10-13T00:00","u":0.0200},
{"s":"KYLIA-62 U","g":1,"t":"2016-10-14T00:00","u":0.0214},
{"s":"KYLIA-62 U","g":1,"t":"2016-10-14T19:00","u":0.0195},
{"s":"KYLIA-62 U","g":1,"t":"2016-10-15T14:00","u":0.0181},
{"s":"KYLIA-62 U","g":1,"t":"2016-10-16T14:00","u":0.0171},
{"s":"KYLIA-62 U","g":1,"t":"2016-10-17T12:00","u":0.0152},
{"s":"KYLIA-62 U","g":1,"t":"2016-10-18T07:00","u":0.0171},
{"s":"KYLIA-62 U","g":1,"t":"2016-10-19T02:00","u":0.0190},
{"s":"KYLIA-62 U","g":1,"t":"2016-10-20T02:00","u":0.0195},
{"s":"KYLIA-62 U","g":1,"t":"2016-10-21T00:00","u":0.0186},
{"s":"KYLIA-62 U","g":1,"t":"2016-10-22T00:00","u":0.0190},
{"s":"KYLIA-62 U","g":1,"t":"2016-10-22T22:00","u":0.0200},
{"s":"KYLIA-62 U","g":1,"t":"2016-10-23T22:00","u":0.0190},
{"s":"KYLIA-62 U","g":1,"t":"2016-10-24T19:00","u":0.0200},
{"s":"KYLIA-62 U","g":1,"t":"2016-10-25T17:00","u":0.0217},
{"s":"KYLIA-62 U","g":1,"t":"2016-10-26T12:00","u":0.0214},
{"s":"KYLIA-62 U","g":1,"t":"2016-10-27T10:00","u":0.0205},
{"s":"KYLIA-62 U","g":1,"t":"2016-10-28T07:00","u":0.0195},
{"s":"KYLIA-62 U","g":1,"t":"2016-10-29T05:00","u":0.0190},
{"s":"KYLIA-62 U","g":1,"t":"2016-10-30T02:00","u":0.0176},
{"s":"KYLIA-62 U","g":1,"t":"2016-10-31T07:00","u":0.0181},
{"s":"KYLIA-62 U","g":1,"t":"2016-11-01T19:00","u":0.0176},
{"s":"KYLIA-62 U","g":1,"t":"2016-11-03T00:00","u":0.0186},
{"s":"KYLIA-62 U","g":1,"t":"2016-11-04T02:00","u":0.0178},
{"s":"KYLIA-62 U","g":1,"t":"2016-11-05T07:00","u":0.0181},
{"s":"KYLIA-62 U","g":1,"t":"2016-11-06T05:00","u":0.0200},
{"s":"KYLIA-62 U","g":1,"t":"2016-11-06T22:00","u":0.0243},
{"s":"KYLIA-62 U","g":1,"t":"2016-11-07T17:00","u":0.0210},
{"s":"KYLIA-62 U","g":1,"t":"2016-11-08T12:00","u":0.0239},
{"s":"KYLIA-62 U","g":1,"t":"2016-11-09T07:00","u":0.0195},
{"s":"KYLIA-62 U","g":1,"t":"2016-11-10T02:00","u":0.0234},
{"s":"KYLIA-62 U","g":1,"t":"2016-11-10T19:00","u":0.0200},
{"s":"KYLIA-62 U","g":1,"t":"2016-11-11T14:00","u":0.0210},
{"s":"KYLIA-62 U","g":1,"t":"2016-11-12T10:00","u":0.0171},
{"s":"KYLIA-62 U","g":1,"t":"2016-11-13T05:00","u":0.0157},
{"s":"KYLIA-62 U","g":1,"t":"2016-11-14T00:00","u":0.0190},
{"s":"KYLIA-62 U","g":1,"t":"2016-11-14T17:00","u":0.0219},
{"s":"KYLIA-62 U","g":1,"t":"2016-11-15T12:00","u":0.0205},
{"s":"KYLIA-62 U","g":1,"t":"2016-11-16T07:00","u":0.0195},
{"s":"KYLIA-62 U","g":1,"t":"2016-11-17T05:00","u":0.0186},
{"s":"KYLIA-62 U","g":1,"t":"2016-11-18T05:00","u":0.0195},
{"s":"KYLIA-62 U","g":1,"t":"2016-11-19T00:00","u":0.0205},
{"s":"KYLIA-62 U","g":1,"t":"2016-11-19T19:00","u":0.0224},
{"s":"KYLIA-62 U","g":1,"t":"2016-11-20T14:00","u":0.0210},
{"s":"KYLIA-62 U","g":1,"t":"2016-11-21T10:00","u":0.0186},
{"s":"KYLIA-62 U","g":1,"t":"2016-11-22T05:00","u":0.0181},
{"s":"KYLIA-62 U","g":1,"t":"2016-11-23T05:00","u":0.0186},
{"s":"KYLIA-62 U","g":1,"t":"2016-11-24T02:00","u":0.0181},
{"s":"KYLIA-62 U","g":1,"t":"2016-11-24T22:00","u":0.0178},
{"s":"KYLIA-62 U","g":1,"t":"2016-11-25T17:00","u":0.0176},
{"s":"KYLIA-62 U","g":1,"t":"2016-11-26T10:00","u":0.0190},
{"s":"KYLIA-62 U","g":1,"t":"2016-11-27T07:00","u":0.0210},
{"s":"KYLIA-62 U","g":1,"t":"2016-11-28T02:00","u":0.0212},
{"s":"KYLIA-62 U","g":1,"t":"2016-11-29T00:00","u":0.0210},
{"s":"KYLIA-62 U","g":1,"t":"2016-11-29T22:00","u":0.0214},
{"s":"KYLIA-62 U","g":1,"t":"2016-11-30T19:00","u":0.0217},
{"s":"KYLIA-62 U","g":1,"t":"2016-12-01T14:00","u":0.0212},
{"s":"KYLIA-62 U","g":1,"t":"2016-12-02T14:00","u":0.0205},
{"s":"KYLIA-62 U","g":1,"t":"2016-12-03T12:00","u":0.0200},
{"s":"KYLIA-62 U","g":1,"t":"2016-12-04T12:00","u":0.0190},
{"s":"KYLIA-62 U","g":1,"t":"2016-12-05T10:00","u":0.0200},
{"s":"KYLIA-62 U","g":1,"t":"2016-12-06T07:00","u":0.0210},
{"s":"KYLIA-62 U","g":1,"t":"2016-12-07T00:00","u":0.0219},
{"s":"KYLIA-62 U","g":1,"t":"2016-12-07T12:00","u":0.0248},
{"s":"KYLIA-62 U","g":1,"t":"2016-12-08T05:00","u":0.0219},
{"s":"KYLIA-62 U","g":1,"t":"2016-12-09T00:00","u":0.0231},
{"s":"KYLIA-62 U","g":1,"t":"2016-12-09T14:00","u":0.0224},
{"s":"KYLIA-62 U","g":1,"t":"2016-12-10T05:00","u":0.0212},
{"s":"KYLIA-62 U","g":1,"t":"2016-12-10T19:00","u":0.0248},
{"s":"KYLIA-62 U","g":1,"t":"2016-12-11T12:00","u":0.0229},
{"s":"KYLIA-62 U","g":1,"t":"2016-12-12T05:00","u":0.0248},
{"s":"KYLIA-62 U","g":1,"t":"2016-12-12T22:00","u":0.0239},
{"s":"KYLIA-62 U","g":1,"t":"2016-12-13T17:00","u":0.0229},
{"s":"KYLIA-62 U","g":1,"t":"2016-12-14T12:00","u":0.0219},
{"s":"KYLIA-62 U","g":1,"t":"2016-12-15T05:00","u":0.0210},
{"s":"KYLIA-62 U","g":1,"t":"2016-12-16T00:00","u":0.0205},
{"s":"KYLIA-62 U","g":1,"t":"2016-12-16T14:00","u":0.0224},
{"s":"KYLIA-62 U","g":1,"t":"2016-12-17T05:00","u":0.0248},
{"s":"KYLIA-62 U","g":1,"t":"2016-12-17T19:00","u":0.0234},
{"s":"KYLIA-62 U","g":1,"t":"2016-12-18T12:00","u":0.0243},
{"s":"KYLIA-62 U","g":1,"t":"2016-12-19T05:00","u":0.0246},
{"s":"KYLIA-62 U","g":1,"t":"2016-12-19T19:00","u":0.0227}
]
},
"encoding": {
  "x": {"field": "t", "type": "temporal", "title": "Date and Time",
    "scale": {"domain": [{"year": 2016, "month": 6, "date": 24, "hours": 7}, {"year": 2017, "month": 7, "date": 22, "hours": 2}]},
    "axis": {"values": [{"year": 2016, "month": 7, "date": 1}, {"year": 2016, "month": 9, "date": 1}, {"year": 2016, "month": 11, "date": 1}, {"year": 2017, "month": 1, "date": 1}, {"year": 2017, "month": 3, "date": 1}, {"year": 2017, "month": 5, "date": 1}, {"year": 2017, "month": 7, "date": 1}],
      "format": "%Y-%m", "gridColor": "#dadada", "gridWidth": 1.5, "labelPadding": 2, "titlePadding": 5, "labelFlush": false}},
  "y": {"field": "u", "type": "quantitative", "title": "U (m)",
    "scale": {"domain": [-0.0278, 0.0481], "nice": false, "zero": false},
    "axis": {"values": [-0.02, -0.01, 0, 0.01, 0.02, 0.03, 0.04], "format": ".2f", "gridColor": "#c8c8c8", "labelPadding": 7, "titlePadding": 2}},
  "color": {"field": "s", "type": "nominal",
    "scale": {"domain": ["KYLIA-64 U", "KYLIA-61 U", "KYLIA-60 U", "KYLIA-62 U"], "range": ["#ff0000", "#008000", "#0000ff", "#000000"]},
    "legend": {"title": null, "orient": "none", "legendX": 966, "legendY": 8,
      "symbolType": "M-2.75,-1H2.75V1H-2.75Z", "symbolSize": 144, "symbolStrokeWidth": 0,
      "labelFontSize": 16, "labelFont": "DejaVu Sans", "labelColor": "#1f1f1f", "labelOffset": 19, "symbolOffset": 8,
      "rowPadding": 7, "padding": 5, "fillColor": "#ffffff", "strokeColor": "#cccccc", "cornerRadius": 3,
      "encode": {"symbols": {"update": {"fill": {"scale": "color", "field": "value"}, "fillOpacity": {"value": 1}, "opacity": {"value": 1}}}}}},
  "detail": {"field": "g", "type": "nominal"}
},
"layer": [
  {"data": {"name": "red"}, "mark": {"type": "line", "strokeWidth": 2.5, "clip": true}},
  {"data": {"name": "green"}, "mark": {"type": "line", "strokeWidth": 2.5, "clip": true}},
  {"data": {"name": "blue"}, "mark": {"type": "line", "strokeWidth": 2.5, "clip": true}},
  {"data": {"name": "black"}, "mark": {"type": "line", "strokeWidth": 2.5, "clip": true}}
]
}
